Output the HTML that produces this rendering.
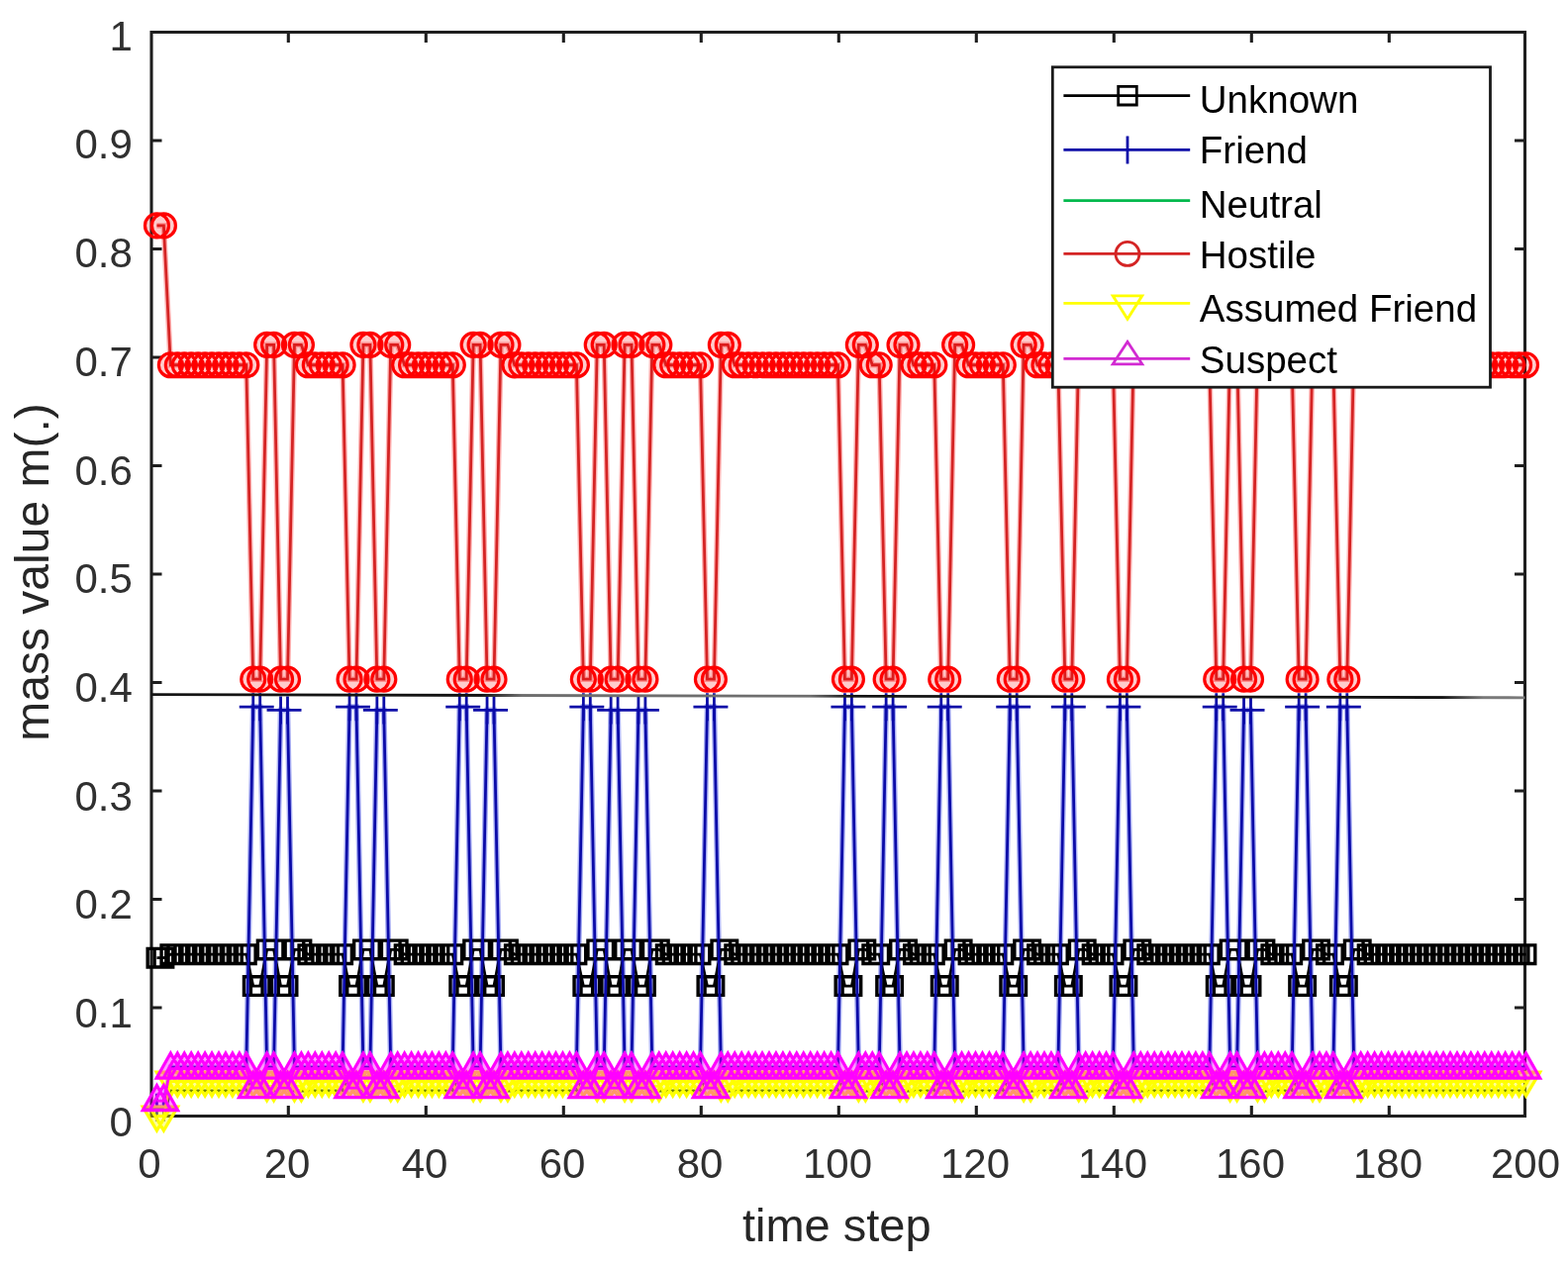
<!DOCTYPE html>
<html><head><meta charset="utf-8"><title>mass value plot</title>
<style>html,body{margin:0;padding:0;background:#fff;}body{width:1584px;height:1282px;overflow:hidden;}svg{display:block;}</style>
</head><body>
<svg width="1584" height="1282" viewBox="0 0 1584 1282">
<rect width="1584" height="1282" fill="#fff"/>
<path fill="none" stroke="#1e1e1e" stroke-width="3.1" d="M153 32.5H1540.5V1127.5H153zM291.3 1127.5v-10.5M291.3 32.5v10.5M430.3 1127.5v-10.5M430.3 32.5v10.5M569.3 1127.5v-10.5M569.3 32.5v10.5M708.3 1127.5v-10.5M708.3 32.5v10.5M847.3 1127.5v-10.5M847.3 32.5v10.5M986.3 1127.5v-10.5M986.3 32.5v10.5M1125.3 1127.5v-10.5M1125.3 32.5v10.5M1264.3 1127.5v-10.5M1264.3 32.5v10.5M1403.3 1127.5v-10.5M1403.3 32.5v10.5M153 1018h10.5M1540.5 1018h-10.5M153 908.5h10.5M1540.5 908.5h-10.5M153 799h10.5M1540.5 799h-10.5M153 689.5h10.5M1540.5 689.5h-10.5M153 580h10.5M1540.5 580h-10.5M153 470.5h10.5M1540.5 470.5h-10.5M153 361h10.5M1540.5 361h-10.5M153 251.5h10.5M1540.5 251.5h-10.5M153 142h10.5M1540.5 142h-10.5"/>
<g fill="none" stroke-width="2.8" stroke-linejoin="miter">
<path stroke="#000" d="M158.45 967.63 L165.4 967.63 L172.35 964.13 L179.3 964.13 L186.25 964.13 L193.2 964.13 L200.15 964.13 L207.1 964.13 L214.05 964.13 L221 964.13 L227.95 964.13 L234.9 964.13 L241.85 964.13 L248.8 964.13 L255.75 996.1 L262.7 996.1 L269.65 959.42 L276.6 959.42 L283.55 996.1 L290.5 996.1 L297.45 959.42 L304.4 959.42 L311.35 964.13 L318.3 964.13 L325.25 964.13 L332.2 964.13 L339.15 964.13 L346.1 964.13 L353.05 996.1 L360 996.1 L366.95 959.42 L373.9 959.42 L380.85 996.1 L387.8 996.1 L394.75 959.42 L401.7 959.42 L408.65 964.13 L415.6 964.13 L422.55 964.13 L429.5 964.13 L436.45 964.13 L443.4 964.13 L450.35 964.13 L457.3 964.13 L464.25 996.1 L471.2 996.1 L478.15 959.42 L485.1 959.42 L492.05 996.1 L499 996.1 L505.95 959.42 L512.9 959.42 L519.85 964.13 L526.8 964.13 L533.75 964.13 L540.7 964.13 L547.65 964.13 L554.6 964.13 L561.55 964.13 L568.5 964.13 L575.45 964.13 L582.4 964.13 L589.35 996.1 L596.3 996.1 L603.25 959.42 L610.2 959.42 L617.15 996.1 L624.1 996.1 L631.05 959.42 L638 959.42 L644.95 996.1 L651.9 996.1 L658.85 959.42 L665.8 959.42 L672.75 964.13 L679.7 964.13 L686.65 964.13 L693.6 964.13 L700.55 964.13 L707.5 964.13 L714.45 996.1 L721.4 996.1 L728.35 959.42 L735.3 959.42 L742.25 964.13 L749.2 964.13 L756.15 964.13 L763.1 964.13 L770.05 964.13 L777 964.13 L783.95 964.13 L790.9 964.13 L797.85 964.13 L804.8 964.13 L811.75 964.13 L818.7 964.13 L825.65 964.13 L832.6 964.13 L839.55 964.13 L846.5 964.13 L853.45 996.1 L860.4 996.1 L867.35 959.42 L874.3 959.42 L881.25 964.13 L888.2 964.13 L895.15 996.1 L902.1 996.1 L909.05 959.42 L916 959.42 L922.95 964.13 L929.9 964.13 L936.85 964.13 L943.8 964.13 L950.75 996.1 L957.7 996.1 L964.65 959.42 L971.6 959.42 L978.55 964.13 L985.5 964.13 L992.45 964.13 L999.4 964.13 L1006.35 964.13 L1013.3 964.13 L1020.25 996.1 L1027.2 996.1 L1034.15 959.42 L1041.1 959.42 L1048.05 964.13 L1055 964.13 L1061.95 964.13 L1068.9 964.13 L1075.85 996.1 L1082.8 996.1 L1089.75 959.42 L1096.7 959.42 L1103.65 964.13 L1110.6 964.13 L1117.55 964.13 L1124.5 964.13 L1131.45 996.1 L1138.4 996.1 L1145.35 959.42 L1152.3 959.42 L1159.25 964.13 L1166.2 964.13 L1173.15 964.13 L1180.1 964.13 L1187.05 964.13 L1194 964.13 L1200.95 964.13 L1207.9 964.13 L1214.85 964.13 L1221.8 964.13 L1228.75 996.1 L1235.7 996.1 L1242.65 959.42 L1249.6 959.42 L1256.55 996.1 L1263.5 996.1 L1270.45 959.42 L1277.4 959.42 L1284.35 964.13 L1291.3 964.13 L1298.25 964.13 L1305.2 964.13 L1312.15 996.1 L1319.1 996.1 L1326.05 959.42 L1333 959.42 L1339.95 964.13 L1346.9 964.13 L1353.85 996.1 L1360.8 996.1 L1367.75 959.42 L1374.7 959.42 L1381.65 964.13 L1388.6 964.13 L1395.55 964.13 L1402.5 964.13 L1409.45 964.13 L1416.4 964.13 L1423.35 964.13 L1430.3 964.13 L1437.25 964.13 L1444.2 964.13 L1451.15 964.13 L1458.1 964.13 L1465.05 964.13 L1472 964.13 L1478.95 964.13 L1485.9 964.13 L1492.85 964.13 L1499.8 964.13 L1506.75 964.13 L1513.7 964.13 L1520.65 964.13 L1527.6 964.13 L1534.55 964.13 L1541.5 964.13"/>
<path stroke="#000" stroke-width="3.4" fill="#000" fill-opacity="0" d="M149.15 958.33h18.6v18.6h-18.6zM156.1 958.33h18.6v18.6h-18.6zM163.05 954.83h18.6v18.6h-18.6zM170 954.83h18.6v18.6h-18.6zM176.95 954.83h18.6v18.6h-18.6zM183.9 954.83h18.6v18.6h-18.6zM190.85 954.83h18.6v18.6h-18.6zM197.8 954.83h18.6v18.6h-18.6zM204.75 954.83h18.6v18.6h-18.6zM211.7 954.83h18.6v18.6h-18.6zM218.65 954.83h18.6v18.6h-18.6zM225.6 954.83h18.6v18.6h-18.6zM232.55 954.83h18.6v18.6h-18.6zM239.5 954.83h18.6v18.6h-18.6zM246.45 986.8h18.6v18.6h-18.6zM253.4 986.8h18.6v18.6h-18.6zM260.35 950.12h18.6v18.6h-18.6zM267.3 950.12h18.6v18.6h-18.6zM274.25 986.8h18.6v18.6h-18.6zM281.2 986.8h18.6v18.6h-18.6zM288.15 950.12h18.6v18.6h-18.6zM295.1 950.12h18.6v18.6h-18.6zM302.05 954.83h18.6v18.6h-18.6zM309 954.83h18.6v18.6h-18.6zM315.95 954.83h18.6v18.6h-18.6zM322.9 954.83h18.6v18.6h-18.6zM329.85 954.83h18.6v18.6h-18.6zM336.8 954.83h18.6v18.6h-18.6zM343.75 986.8h18.6v18.6h-18.6zM350.7 986.8h18.6v18.6h-18.6zM357.65 950.12h18.6v18.6h-18.6zM364.6 950.12h18.6v18.6h-18.6zM371.55 986.8h18.6v18.6h-18.6zM378.5 986.8h18.6v18.6h-18.6zM385.45 950.12h18.6v18.6h-18.6zM392.4 950.12h18.6v18.6h-18.6zM399.35 954.83h18.6v18.6h-18.6zM406.3 954.83h18.6v18.6h-18.6zM413.25 954.83h18.6v18.6h-18.6zM420.2 954.83h18.6v18.6h-18.6zM427.15 954.83h18.6v18.6h-18.6zM434.1 954.83h18.6v18.6h-18.6zM441.05 954.83h18.6v18.6h-18.6zM448 954.83h18.6v18.6h-18.6zM454.95 986.8h18.6v18.6h-18.6zM461.9 986.8h18.6v18.6h-18.6zM468.85 950.12h18.6v18.6h-18.6zM475.8 950.12h18.6v18.6h-18.6zM482.75 986.8h18.6v18.6h-18.6zM489.7 986.8h18.6v18.6h-18.6zM496.65 950.12h18.6v18.6h-18.6zM503.6 950.12h18.6v18.6h-18.6zM510.55 954.83h18.6v18.6h-18.6zM517.5 954.83h18.6v18.6h-18.6zM524.45 954.83h18.6v18.6h-18.6zM531.4 954.83h18.6v18.6h-18.6zM538.35 954.83h18.6v18.6h-18.6zM545.3 954.83h18.6v18.6h-18.6zM552.25 954.83h18.6v18.6h-18.6zM559.2 954.83h18.6v18.6h-18.6zM566.15 954.83h18.6v18.6h-18.6zM573.1 954.83h18.6v18.6h-18.6zM580.05 986.8h18.6v18.6h-18.6zM587 986.8h18.6v18.6h-18.6zM593.95 950.12h18.6v18.6h-18.6zM600.9 950.12h18.6v18.6h-18.6zM607.85 986.8h18.6v18.6h-18.6zM614.8 986.8h18.6v18.6h-18.6zM621.75 950.12h18.6v18.6h-18.6zM628.7 950.12h18.6v18.6h-18.6zM635.65 986.8h18.6v18.6h-18.6zM642.6 986.8h18.6v18.6h-18.6zM649.55 950.12h18.6v18.6h-18.6zM656.5 950.12h18.6v18.6h-18.6zM663.45 954.83h18.6v18.6h-18.6zM670.4 954.83h18.6v18.6h-18.6zM677.35 954.83h18.6v18.6h-18.6zM684.3 954.83h18.6v18.6h-18.6zM691.25 954.83h18.6v18.6h-18.6zM698.2 954.83h18.6v18.6h-18.6zM705.15 986.8h18.6v18.6h-18.6zM712.1 986.8h18.6v18.6h-18.6zM719.05 950.12h18.6v18.6h-18.6zM726 950.12h18.6v18.6h-18.6zM732.95 954.83h18.6v18.6h-18.6zM739.9 954.83h18.6v18.6h-18.6zM746.85 954.83h18.6v18.6h-18.6zM753.8 954.83h18.6v18.6h-18.6zM760.75 954.83h18.6v18.6h-18.6zM767.7 954.83h18.6v18.6h-18.6zM774.65 954.83h18.6v18.6h-18.6zM781.6 954.83h18.6v18.6h-18.6zM788.55 954.83h18.6v18.6h-18.6zM795.5 954.83h18.6v18.6h-18.6zM802.45 954.83h18.6v18.6h-18.6zM809.4 954.83h18.6v18.6h-18.6zM816.35 954.83h18.6v18.6h-18.6zM823.3 954.83h18.6v18.6h-18.6zM830.25 954.83h18.6v18.6h-18.6zM837.2 954.83h18.6v18.6h-18.6zM844.15 986.8h18.6v18.6h-18.6zM851.1 986.8h18.6v18.6h-18.6zM858.05 950.12h18.6v18.6h-18.6zM865 950.12h18.6v18.6h-18.6zM871.95 954.83h18.6v18.6h-18.6zM878.9 954.83h18.6v18.6h-18.6zM885.85 986.8h18.6v18.6h-18.6zM892.8 986.8h18.6v18.6h-18.6zM899.75 950.12h18.6v18.6h-18.6zM906.7 950.12h18.6v18.6h-18.6zM913.65 954.83h18.6v18.6h-18.6zM920.6 954.83h18.6v18.6h-18.6zM927.55 954.83h18.6v18.6h-18.6zM934.5 954.83h18.6v18.6h-18.6zM941.45 986.8h18.6v18.6h-18.6zM948.4 986.8h18.6v18.6h-18.6zM955.35 950.12h18.6v18.6h-18.6zM962.3 950.12h18.6v18.6h-18.6zM969.25 954.83h18.6v18.6h-18.6zM976.2 954.83h18.6v18.6h-18.6zM983.15 954.83h18.6v18.6h-18.6zM990.1 954.83h18.6v18.6h-18.6zM997.05 954.83h18.6v18.6h-18.6zM1004 954.83h18.6v18.6h-18.6zM1010.95 986.8h18.6v18.6h-18.6zM1017.9 986.8h18.6v18.6h-18.6zM1024.85 950.12h18.6v18.6h-18.6zM1031.8 950.12h18.6v18.6h-18.6zM1038.75 954.83h18.6v18.6h-18.6zM1045.7 954.83h18.6v18.6h-18.6zM1052.65 954.83h18.6v18.6h-18.6zM1059.6 954.83h18.6v18.6h-18.6zM1066.55 986.8h18.6v18.6h-18.6zM1073.5 986.8h18.6v18.6h-18.6zM1080.45 950.12h18.6v18.6h-18.6zM1087.4 950.12h18.6v18.6h-18.6zM1094.35 954.83h18.6v18.6h-18.6zM1101.3 954.83h18.6v18.6h-18.6zM1108.25 954.83h18.6v18.6h-18.6zM1115.2 954.83h18.6v18.6h-18.6zM1122.15 986.8h18.6v18.6h-18.6zM1129.1 986.8h18.6v18.6h-18.6zM1136.05 950.12h18.6v18.6h-18.6zM1143 950.12h18.6v18.6h-18.6zM1149.95 954.83h18.6v18.6h-18.6zM1156.9 954.83h18.6v18.6h-18.6zM1163.85 954.83h18.6v18.6h-18.6zM1170.8 954.83h18.6v18.6h-18.6zM1177.75 954.83h18.6v18.6h-18.6zM1184.7 954.83h18.6v18.6h-18.6zM1191.65 954.83h18.6v18.6h-18.6zM1198.6 954.83h18.6v18.6h-18.6zM1205.55 954.83h18.6v18.6h-18.6zM1212.5 954.83h18.6v18.6h-18.6zM1219.45 986.8h18.6v18.6h-18.6zM1226.4 986.8h18.6v18.6h-18.6zM1233.35 950.12h18.6v18.6h-18.6zM1240.3 950.12h18.6v18.6h-18.6zM1247.25 986.8h18.6v18.6h-18.6zM1254.2 986.8h18.6v18.6h-18.6zM1261.15 950.12h18.6v18.6h-18.6zM1268.1 950.12h18.6v18.6h-18.6zM1275.05 954.83h18.6v18.6h-18.6zM1282 954.83h18.6v18.6h-18.6zM1288.95 954.83h18.6v18.6h-18.6zM1295.9 954.83h18.6v18.6h-18.6zM1302.85 986.8h18.6v18.6h-18.6zM1309.8 986.8h18.6v18.6h-18.6zM1316.75 950.12h18.6v18.6h-18.6zM1323.7 950.12h18.6v18.6h-18.6zM1330.65 954.83h18.6v18.6h-18.6zM1337.6 954.83h18.6v18.6h-18.6zM1344.55 986.8h18.6v18.6h-18.6zM1351.5 986.8h18.6v18.6h-18.6zM1358.45 950.12h18.6v18.6h-18.6zM1365.4 950.12h18.6v18.6h-18.6zM1372.35 954.83h18.6v18.6h-18.6zM1379.3 954.83h18.6v18.6h-18.6zM1386.25 954.83h18.6v18.6h-18.6zM1393.2 954.83h18.6v18.6h-18.6zM1400.15 954.83h18.6v18.6h-18.6zM1407.1 954.83h18.6v18.6h-18.6zM1414.05 954.83h18.6v18.6h-18.6zM1421 954.83h18.6v18.6h-18.6zM1427.95 954.83h18.6v18.6h-18.6zM1434.9 954.83h18.6v18.6h-18.6zM1441.85 954.83h18.6v18.6h-18.6zM1448.8 954.83h18.6v18.6h-18.6zM1455.75 954.83h18.6v18.6h-18.6zM1462.7 954.83h18.6v18.6h-18.6zM1469.65 954.83h18.6v18.6h-18.6zM1476.6 954.83h18.6v18.6h-18.6zM1483.55 954.83h18.6v18.6h-18.6zM1490.5 954.83h18.6v18.6h-18.6zM1497.45 954.83h18.6v18.6h-18.6zM1504.4 954.83h18.6v18.6h-18.6zM1511.35 954.83h18.6v18.6h-18.6zM1518.3 954.83h18.6v18.6h-18.6zM1525.25 954.83h18.6v18.6h-18.6zM1532.2 954.83h18.6v18.6h-18.6z"/>
<path stroke="#aab0f4" stroke-width="5.6" style="mix-blend-mode:multiply" d="M158.45 1118.74 L165.4 1118.74 L172.35 1078.22 L179.3 1078.22 L186.25 1078.22 L193.2 1078.22 L200.15 1078.22 L207.1 1078.22 L214.05 1078.22 L221 1078.22 L227.95 1078.22 L234.9 1078.22 L241.85 1078.22 L248.8 1078.22 L255.75 714.14 L262.7 714.14 L269.65 1078.22 L276.6 1078.22 L283.55 717.42 L290.5 717.42 L297.45 1078.22 L304.4 1078.22 L311.35 1078.22 L318.3 1078.22 L325.25 1078.22 L332.2 1078.22 L339.15 1078.22 L346.1 1078.22 L353.05 714.14 L360 714.14 L366.95 1078.22 L373.9 1078.22 L380.85 717.42 L387.8 717.42 L394.75 1078.22 L401.7 1078.22 L408.65 1078.22 L415.6 1078.22 L422.55 1078.22 L429.5 1078.22 L436.45 1078.22 L443.4 1078.22 L450.35 1078.22 L457.3 1078.22 L464.25 714.14 L471.2 714.14 L478.15 1078.22 L485.1 1078.22 L492.05 717.42 L499 717.42 L505.95 1078.22 L512.9 1078.22 L519.85 1078.22 L526.8 1078.22 L533.75 1078.22 L540.7 1078.22 L547.65 1078.22 L554.6 1078.22 L561.55 1078.22 L568.5 1078.22 L575.45 1078.22 L582.4 1078.22 L589.35 714.14 L596.3 714.14 L603.25 1078.22 L610.2 1078.22 L617.15 717.42 L624.1 717.42 L631.05 1078.22 L638 1078.22 L644.95 717.42 L651.9 717.42 L658.85 1078.22 L665.8 1078.22 L672.75 1078.22 L679.7 1078.22 L686.65 1078.22 L693.6 1078.22 L700.55 1078.22 L707.5 1078.22 L714.45 714.14 L721.4 714.14 L728.35 1078.22 L735.3 1078.22 L742.25 1078.22 L749.2 1078.22 L756.15 1078.22 L763.1 1078.22 L770.05 1078.22 L777 1078.22 L783.95 1078.22 L790.9 1078.22 L797.85 1078.22 L804.8 1078.22 L811.75 1078.22 L818.7 1078.22 L825.65 1078.22 L832.6 1078.22 L839.55 1078.22 L846.5 1078.22 L853.45 714.14 L860.4 714.14 L867.35 1078.22 L874.3 1078.22 L881.25 1078.22 L888.2 1078.22 L895.15 714.14 L902.1 714.14 L909.05 1078.22 L916 1078.22 L922.95 1078.22 L929.9 1078.22 L936.85 1078.22 L943.8 1078.22 L950.75 714.14 L957.7 714.14 L964.65 1078.22 L971.6 1078.22 L978.55 1078.22 L985.5 1078.22 L992.45 1078.22 L999.4 1078.22 L1006.35 1078.22 L1013.3 1078.22 L1020.25 714.14 L1027.2 714.14 L1034.15 1078.22 L1041.1 1078.22 L1048.05 1078.22 L1055 1078.22 L1061.95 1078.22 L1068.9 1078.22 L1075.85 714.14 L1082.8 714.14 L1089.75 1078.22 L1096.7 1078.22 L1103.65 1078.22 L1110.6 1078.22 L1117.55 1078.22 L1124.5 1078.22 L1131.45 714.14 L1138.4 714.14 L1145.35 1078.22 L1152.3 1078.22 L1159.25 1078.22 L1166.2 1078.22 L1173.15 1078.22 L1180.1 1078.22 L1187.05 1078.22 L1194 1078.22 L1200.95 1078.22 L1207.9 1078.22 L1214.85 1078.22 L1221.8 1078.22 L1228.75 714.14 L1235.7 714.14 L1242.65 1078.22 L1249.6 1078.22 L1256.55 717.42 L1263.5 717.42 L1270.45 1078.22 L1277.4 1078.22 L1284.35 1078.22 L1291.3 1078.22 L1298.25 1078.22 L1305.2 1078.22 L1312.15 714.14 L1319.1 714.14 L1326.05 1078.22 L1333 1078.22 L1339.95 1078.22 L1346.9 1078.22 L1353.85 714.14 L1360.8 714.14 L1367.75 1078.22 L1374.7 1078.22 L1381.65 1078.22 L1388.6 1078.22 L1395.55 1078.22 L1402.5 1078.22 L1409.45 1078.22 L1416.4 1078.22 L1423.35 1078.22 L1430.3 1078.22 L1437.25 1078.22 L1444.2 1078.22 L1451.15 1078.22 L1458.1 1078.22 L1465.05 1078.22 L1472 1078.22 L1478.95 1078.22 L1485.9 1078.22 L1492.85 1078.22 L1499.8 1078.22 L1506.75 1078.22 L1513.7 1078.22 L1520.65 1078.22 L1527.6 1078.22 L1534.55 1078.22 L1541.5 1078.22"/>
<path stroke="#0b0ba8" d="M158.45 1118.74 L165.4 1118.74 L172.35 1078.22 L179.3 1078.22 L186.25 1078.22 L193.2 1078.22 L200.15 1078.22 L207.1 1078.22 L214.05 1078.22 L221 1078.22 L227.95 1078.22 L234.9 1078.22 L241.85 1078.22 L248.8 1078.22 L255.75 714.14 L262.7 714.14 L269.65 1078.22 L276.6 1078.22 L283.55 717.42 L290.5 717.42 L297.45 1078.22 L304.4 1078.22 L311.35 1078.22 L318.3 1078.22 L325.25 1078.22 L332.2 1078.22 L339.15 1078.22 L346.1 1078.22 L353.05 714.14 L360 714.14 L366.95 1078.22 L373.9 1078.22 L380.85 717.42 L387.8 717.42 L394.75 1078.22 L401.7 1078.22 L408.65 1078.22 L415.6 1078.22 L422.55 1078.22 L429.5 1078.22 L436.45 1078.22 L443.4 1078.22 L450.35 1078.22 L457.3 1078.22 L464.25 714.14 L471.2 714.14 L478.15 1078.22 L485.1 1078.22 L492.05 717.42 L499 717.42 L505.95 1078.22 L512.9 1078.22 L519.85 1078.22 L526.8 1078.22 L533.75 1078.22 L540.7 1078.22 L547.65 1078.22 L554.6 1078.22 L561.55 1078.22 L568.5 1078.22 L575.45 1078.22 L582.4 1078.22 L589.35 714.14 L596.3 714.14 L603.25 1078.22 L610.2 1078.22 L617.15 717.42 L624.1 717.42 L631.05 1078.22 L638 1078.22 L644.95 717.42 L651.9 717.42 L658.85 1078.22 L665.8 1078.22 L672.75 1078.22 L679.7 1078.22 L686.65 1078.22 L693.6 1078.22 L700.55 1078.22 L707.5 1078.22 L714.45 714.14 L721.4 714.14 L728.35 1078.22 L735.3 1078.22 L742.25 1078.22 L749.2 1078.22 L756.15 1078.22 L763.1 1078.22 L770.05 1078.22 L777 1078.22 L783.95 1078.22 L790.9 1078.22 L797.85 1078.22 L804.8 1078.22 L811.75 1078.22 L818.7 1078.22 L825.65 1078.22 L832.6 1078.22 L839.55 1078.22 L846.5 1078.22 L853.45 714.14 L860.4 714.14 L867.35 1078.22 L874.3 1078.22 L881.25 1078.22 L888.2 1078.22 L895.15 714.14 L902.1 714.14 L909.05 1078.22 L916 1078.22 L922.95 1078.22 L929.9 1078.22 L936.85 1078.22 L943.8 1078.22 L950.75 714.14 L957.7 714.14 L964.65 1078.22 L971.6 1078.22 L978.55 1078.22 L985.5 1078.22 L992.45 1078.22 L999.4 1078.22 L1006.35 1078.22 L1013.3 1078.22 L1020.25 714.14 L1027.2 714.14 L1034.15 1078.22 L1041.1 1078.22 L1048.05 1078.22 L1055 1078.22 L1061.95 1078.22 L1068.9 1078.22 L1075.85 714.14 L1082.8 714.14 L1089.75 1078.22 L1096.7 1078.22 L1103.65 1078.22 L1110.6 1078.22 L1117.55 1078.22 L1124.5 1078.22 L1131.45 714.14 L1138.4 714.14 L1145.35 1078.22 L1152.3 1078.22 L1159.25 1078.22 L1166.2 1078.22 L1173.15 1078.22 L1180.1 1078.22 L1187.05 1078.22 L1194 1078.22 L1200.95 1078.22 L1207.9 1078.22 L1214.85 1078.22 L1221.8 1078.22 L1228.75 714.14 L1235.7 714.14 L1242.65 1078.22 L1249.6 1078.22 L1256.55 717.42 L1263.5 717.42 L1270.45 1078.22 L1277.4 1078.22 L1284.35 1078.22 L1291.3 1078.22 L1298.25 1078.22 L1305.2 1078.22 L1312.15 714.14 L1319.1 714.14 L1326.05 1078.22 L1333 1078.22 L1339.95 1078.22 L1346.9 1078.22 L1353.85 714.14 L1360.8 714.14 L1367.75 1078.22 L1374.7 1078.22 L1381.65 1078.22 L1388.6 1078.22 L1395.55 1078.22 L1402.5 1078.22 L1409.45 1078.22 L1416.4 1078.22 L1423.35 1078.22 L1430.3 1078.22 L1437.25 1078.22 L1444.2 1078.22 L1451.15 1078.22 L1458.1 1078.22 L1465.05 1078.22 L1472 1078.22 L1478.95 1078.22 L1485.9 1078.22 L1492.85 1078.22 L1499.8 1078.22 L1506.75 1078.22 L1513.7 1078.22 L1520.65 1078.22 L1527.6 1078.22 L1534.55 1078.22 L1541.5 1078.22"/>
<path stroke="#0b0ba8" d="M144.45 1118.74h28M158.45 1104.74v28M151.4 1118.74h28M165.4 1104.74v28M241.75 714.14h28M255.75 700.14v28M248.7 714.14h28M262.7 700.14v28M269.55 717.42h28M283.55 703.42v28M276.5 717.42h28M290.5 703.42v28M339.05 714.14h28M353.05 700.14v28M346 714.14h28M360 700.14v28M366.85 717.42h28M380.85 703.42v28M373.8 717.42h28M387.8 703.42v28M450.25 714.14h28M464.25 700.14v28M457.2 714.14h28M471.2 700.14v28M478.05 717.42h28M492.05 703.42v28M485 717.42h28M499 703.42v28M575.35 714.14h28M589.35 700.14v28M582.3 714.14h28M596.3 700.14v28M603.15 717.42h28M617.15 703.42v28M610.1 717.42h28M624.1 703.42v28M630.95 717.42h28M644.95 703.42v28M637.9 717.42h28M651.9 703.42v28M700.45 714.14h28M714.45 700.14v28M707.4 714.14h28M721.4 700.14v28M839.45 714.14h28M853.45 700.14v28M846.4 714.14h28M860.4 700.14v28M881.15 714.14h28M895.15 700.14v28M888.1 714.14h28M902.1 700.14v28M936.75 714.14h28M950.75 700.14v28M943.7 714.14h28M957.7 700.14v28M1006.25 714.14h28M1020.25 700.14v28M1013.2 714.14h28M1027.2 700.14v28M1061.85 714.14h28M1075.85 700.14v28M1068.8 714.14h28M1082.8 700.14v28M1117.45 714.14h28M1131.45 700.14v28M1124.4 714.14h28M1138.4 700.14v28M1214.75 714.14h28M1228.75 700.14v28M1221.7 714.14h28M1235.7 700.14v28M1242.55 717.42h28M1256.55 703.42v28M1249.5 717.42h28M1263.5 703.42v28M1298.15 714.14h28M1312.15 700.14v28M1305.1 714.14h28M1319.1 700.14v28M1339.85 714.14h28M1353.85 700.14v28M1346.8 714.14h28M1360.8 700.14v28"/>
<path stroke="#1a3a00" d="M158.45 1127.5 L165.4 1127.5 L172.35 1101.99 L179.3 1101.99 L186.25 1101.99 L193.2 1101.99 L200.15 1101.99 L207.1 1101.99 L214.05 1101.99 L221 1101.99 L227.95 1101.99 L234.9 1101.99 L241.85 1101.99 L248.8 1101.99 L255.75 1083.7 L262.7 1083.7 L269.65 1101.99 L276.6 1101.99 L283.55 1083.7 L290.5 1083.7 L297.45 1101.99 L304.4 1101.99 L311.35 1101.99 L318.3 1101.99 L325.25 1101.99 L332.2 1101.99 L339.15 1101.99 L346.1 1101.99 L353.05 1083.7 L360 1083.7 L366.95 1101.99 L373.9 1101.99 L380.85 1083.7 L387.8 1083.7 L394.75 1101.99 L401.7 1101.99 L408.65 1101.99 L415.6 1101.99 L422.55 1101.99 L429.5 1101.99 L436.45 1101.99 L443.4 1101.99 L450.35 1101.99 L457.3 1101.99 L464.25 1083.7 L471.2 1083.7 L478.15 1101.99 L485.1 1101.99 L492.05 1083.7 L499 1083.7 L505.95 1101.99 L512.9 1101.99 L519.85 1101.99 L526.8 1101.99 L533.75 1101.99 L540.7 1101.99 L547.65 1101.99 L554.6 1101.99 L561.55 1101.99 L568.5 1101.99 L575.45 1101.99 L582.4 1101.99 L589.35 1083.7 L596.3 1083.7 L603.25 1101.99 L610.2 1101.99 L617.15 1083.7 L624.1 1083.7 L631.05 1101.99 L638 1101.99 L644.95 1083.7 L651.9 1083.7 L658.85 1101.99 L665.8 1101.99 L672.75 1101.99 L679.7 1101.99 L686.65 1101.99 L693.6 1101.99 L700.55 1101.99 L707.5 1101.99 L714.45 1083.7 L721.4 1083.7 L728.35 1101.99 L735.3 1101.99 L742.25 1101.99 L749.2 1101.99 L756.15 1101.99 L763.1 1101.99 L770.05 1101.99 L777 1101.99 L783.95 1101.99 L790.9 1101.99 L797.85 1101.99 L804.8 1101.99 L811.75 1101.99 L818.7 1101.99 L825.65 1101.99 L832.6 1101.99 L839.55 1101.99 L846.5 1101.99 L853.45 1083.7 L860.4 1083.7 L867.35 1101.99 L874.3 1101.99 L881.25 1101.99 L888.2 1101.99 L895.15 1083.7 L902.1 1083.7 L909.05 1101.99 L916 1101.99 L922.95 1101.99 L929.9 1101.99 L936.85 1101.99 L943.8 1101.99 L950.75 1083.7 L957.7 1083.7 L964.65 1101.99 L971.6 1101.99 L978.55 1101.99 L985.5 1101.99 L992.45 1101.99 L999.4 1101.99 L1006.35 1101.99 L1013.3 1101.99 L1020.25 1083.7 L1027.2 1083.7 L1034.15 1101.99 L1041.1 1101.99 L1048.05 1101.99 L1055 1101.99 L1061.95 1101.99 L1068.9 1101.99 L1075.85 1083.7 L1082.8 1083.7 L1089.75 1101.99 L1096.7 1101.99 L1103.65 1101.99 L1110.6 1101.99 L1117.55 1101.99 L1124.5 1101.99 L1131.45 1083.7 L1138.4 1083.7 L1145.35 1101.99 L1152.3 1101.99 L1159.25 1101.99 L1166.2 1101.99 L1173.15 1101.99 L1180.1 1101.99 L1187.05 1101.99 L1194 1101.99 L1200.95 1101.99 L1207.9 1101.99 L1214.85 1101.99 L1221.8 1101.99 L1228.75 1083.7 L1235.7 1083.7 L1242.65 1101.99 L1249.6 1101.99 L1256.55 1083.7 L1263.5 1083.7 L1270.45 1101.99 L1277.4 1101.99 L1284.35 1101.99 L1291.3 1101.99 L1298.25 1101.99 L1305.2 1101.99 L1312.15 1083.7 L1319.1 1083.7 L1326.05 1101.99 L1333 1101.99 L1339.95 1101.99 L1346.9 1101.99 L1353.85 1083.7 L1360.8 1083.7 L1367.75 1101.99 L1374.7 1101.99 L1381.65 1101.99 L1388.6 1101.99 L1395.55 1101.99 L1402.5 1101.99 L1409.45 1101.99 L1416.4 1101.99 L1423.35 1101.99 L1430.3 1101.99 L1437.25 1101.99 L1444.2 1101.99 L1451.15 1101.99 L1458.1 1101.99 L1465.05 1101.99 L1472 1101.99 L1478.95 1101.99 L1485.9 1101.99 L1492.85 1101.99 L1499.8 1101.99 L1506.75 1101.99 L1513.7 1101.99 L1520.65 1101.99 L1527.6 1101.99 L1534.55 1101.99 L1541.5 1101.99"/>
<defs><linearGradient id="rl" gradientUnits="userSpaceOnUse" x1="153" y1="0" x2="1540" y2="0"><stop offset="0" stop-color="#141414"/><stop offset="0.24" stop-color="#141414"/><stop offset="0.27" stop-color="#6e6e6e"/><stop offset="0.48" stop-color="#6e6e6e"/><stop offset="0.51" stop-color="#141414"/><stop offset="0.94" stop-color="#141414"/><stop offset="0.97" stop-color="#7a7a7a"/><stop offset="1" stop-color="#7a7a7a"/></linearGradient></defs>
<path stroke="url(#rl)" d="M153 701.7L1540.5 704.8"/>
<path stroke="#ffb4b4" stroke-width="5.6" style="mix-blend-mode:multiply" d="M158.45 227.96 L165.4 227.96 L172.35 368.77 L179.3 368.77 L186.25 368.77 L193.2 368.77 L200.15 368.77 L207.1 368.77 L214.05 368.77 L221 368.77 L227.95 368.77 L234.9 368.77 L241.85 368.77 L248.8 368.77 L255.75 686.21 L262.7 686.21 L269.65 348.41 L276.6 348.41 L283.55 686.21 L290.5 686.21 L297.45 348.41 L304.4 348.41 L311.35 368.77 L318.3 368.77 L325.25 368.77 L332.2 368.77 L339.15 368.77 L346.1 368.77 L353.05 686.21 L360 686.21 L366.95 348.41 L373.9 348.41 L380.85 686.21 L387.8 686.21 L394.75 348.41 L401.7 348.41 L408.65 368.77 L415.6 368.77 L422.55 368.77 L429.5 368.77 L436.45 368.77 L443.4 368.77 L450.35 368.77 L457.3 368.77 L464.25 686.21 L471.2 686.21 L478.15 348.41 L485.1 348.41 L492.05 686.21 L499 686.21 L505.95 348.41 L512.9 348.41 L519.85 368.77 L526.8 368.77 L533.75 368.77 L540.7 368.77 L547.65 368.77 L554.6 368.77 L561.55 368.77 L568.5 368.77 L575.45 368.77 L582.4 368.77 L589.35 686.21 L596.3 686.21 L603.25 348.41 L610.2 348.41 L617.15 686.21 L624.1 686.21 L631.05 348.41 L638 348.41 L644.95 686.21 L651.9 686.21 L658.85 348.41 L665.8 348.41 L672.75 368.77 L679.7 368.77 L686.65 368.77 L693.6 368.77 L700.55 368.77 L707.5 368.77 L714.45 686.21 L721.4 686.21 L728.35 348.41 L735.3 348.41 L742.25 368.77 L749.2 368.77 L756.15 368.77 L763.1 368.77 L770.05 368.77 L777 368.77 L783.95 368.77 L790.9 368.77 L797.85 368.77 L804.8 368.77 L811.75 368.77 L818.7 368.77 L825.65 368.77 L832.6 368.77 L839.55 368.77 L846.5 368.77 L853.45 686.21 L860.4 686.21 L867.35 348.41 L874.3 348.41 L881.25 368.77 L888.2 368.77 L895.15 686.21 L902.1 686.21 L909.05 348.41 L916 348.41 L922.95 368.77 L929.9 368.77 L936.85 368.77 L943.8 368.77 L950.75 686.21 L957.7 686.21 L964.65 348.41 L971.6 348.41 L978.55 368.77 L985.5 368.77 L992.45 368.77 L999.4 368.77 L1006.35 368.77 L1013.3 368.77 L1020.25 686.21 L1027.2 686.21 L1034.15 348.41 L1041.1 348.41 L1048.05 368.77 L1055 368.77 L1061.95 368.77 L1068.9 368.77 L1075.85 686.21 L1082.8 686.21 L1089.75 348.41 L1096.7 348.41 L1103.65 368.77 L1110.6 368.77 L1117.55 368.77 L1124.5 368.77 L1131.45 686.21 L1138.4 686.21 L1145.35 348.41 L1152.3 348.41 L1159.25 368.77 L1166.2 368.77 L1173.15 368.77 L1180.1 368.77 L1187.05 368.77 L1194 368.77 L1200.95 368.77 L1207.9 368.77 L1214.85 368.77 L1221.8 368.77 L1228.75 686.21 L1235.7 686.21 L1242.65 348.41 L1249.6 348.41 L1256.55 686.21 L1263.5 686.21 L1270.45 348.41 L1277.4 348.41 L1284.35 368.77 L1291.3 368.77 L1298.25 368.77 L1305.2 368.77 L1312.15 686.21 L1319.1 686.21 L1326.05 348.41 L1333 348.41 L1339.95 368.77 L1346.9 368.77 L1353.85 686.21 L1360.8 686.21 L1367.75 348.41 L1374.7 348.41 L1381.65 368.77 L1388.6 368.77 L1395.55 368.77 L1402.5 368.77 L1409.45 368.77 L1416.4 368.77 L1423.35 368.77 L1430.3 368.77 L1437.25 368.77 L1444.2 368.77 L1451.15 368.77 L1458.1 368.77 L1465.05 368.77 L1472 368.77 L1478.95 368.77 L1485.9 368.77 L1492.85 368.77 L1499.8 368.77 L1506.75 368.77 L1513.7 368.77 L1520.65 368.77 L1527.6 368.77 L1534.55 368.77 L1541.5 368.77"/>
<path stroke="#d42424" d="M158.45 227.96 L165.4 227.96 L172.35 368.77 L179.3 368.77 L186.25 368.77 L193.2 368.77 L200.15 368.77 L207.1 368.77 L214.05 368.77 L221 368.77 L227.95 368.77 L234.9 368.77 L241.85 368.77 L248.8 368.77 L255.75 686.21 L262.7 686.21 L269.65 348.41 L276.6 348.41 L283.55 686.21 L290.5 686.21 L297.45 348.41 L304.4 348.41 L311.35 368.77 L318.3 368.77 L325.25 368.77 L332.2 368.77 L339.15 368.77 L346.1 368.77 L353.05 686.21 L360 686.21 L366.95 348.41 L373.9 348.41 L380.85 686.21 L387.8 686.21 L394.75 348.41 L401.7 348.41 L408.65 368.77 L415.6 368.77 L422.55 368.77 L429.5 368.77 L436.45 368.77 L443.4 368.77 L450.35 368.77 L457.3 368.77 L464.25 686.21 L471.2 686.21 L478.15 348.41 L485.1 348.41 L492.05 686.21 L499 686.21 L505.95 348.41 L512.9 348.41 L519.85 368.77 L526.8 368.77 L533.75 368.77 L540.7 368.77 L547.65 368.77 L554.6 368.77 L561.55 368.77 L568.5 368.77 L575.45 368.77 L582.4 368.77 L589.35 686.21 L596.3 686.21 L603.25 348.41 L610.2 348.41 L617.15 686.21 L624.1 686.21 L631.05 348.41 L638 348.41 L644.95 686.21 L651.9 686.21 L658.85 348.41 L665.8 348.41 L672.75 368.77 L679.7 368.77 L686.65 368.77 L693.6 368.77 L700.55 368.77 L707.5 368.77 L714.45 686.21 L721.4 686.21 L728.35 348.41 L735.3 348.41 L742.25 368.77 L749.2 368.77 L756.15 368.77 L763.1 368.77 L770.05 368.77 L777 368.77 L783.95 368.77 L790.9 368.77 L797.85 368.77 L804.8 368.77 L811.75 368.77 L818.7 368.77 L825.65 368.77 L832.6 368.77 L839.55 368.77 L846.5 368.77 L853.45 686.21 L860.4 686.21 L867.35 348.41 L874.3 348.41 L881.25 368.77 L888.2 368.77 L895.15 686.21 L902.1 686.21 L909.05 348.41 L916 348.41 L922.95 368.77 L929.9 368.77 L936.85 368.77 L943.8 368.77 L950.75 686.21 L957.7 686.21 L964.65 348.41 L971.6 348.41 L978.55 368.77 L985.5 368.77 L992.45 368.77 L999.4 368.77 L1006.35 368.77 L1013.3 368.77 L1020.25 686.21 L1027.2 686.21 L1034.15 348.41 L1041.1 348.41 L1048.05 368.77 L1055 368.77 L1061.95 368.77 L1068.9 368.77 L1075.85 686.21 L1082.8 686.21 L1089.75 348.41 L1096.7 348.41 L1103.65 368.77 L1110.6 368.77 L1117.55 368.77 L1124.5 368.77 L1131.45 686.21 L1138.4 686.21 L1145.35 348.41 L1152.3 348.41 L1159.25 368.77 L1166.2 368.77 L1173.15 368.77 L1180.1 368.77 L1187.05 368.77 L1194 368.77 L1200.95 368.77 L1207.9 368.77 L1214.85 368.77 L1221.8 368.77 L1228.75 686.21 L1235.7 686.21 L1242.65 348.41 L1249.6 348.41 L1256.55 686.21 L1263.5 686.21 L1270.45 348.41 L1277.4 348.41 L1284.35 368.77 L1291.3 368.77 L1298.25 368.77 L1305.2 368.77 L1312.15 686.21 L1319.1 686.21 L1326.05 348.41 L1333 348.41 L1339.95 368.77 L1346.9 368.77 L1353.85 686.21 L1360.8 686.21 L1367.75 348.41 L1374.7 348.41 L1381.65 368.77 L1388.6 368.77 L1395.55 368.77 L1402.5 368.77 L1409.45 368.77 L1416.4 368.77 L1423.35 368.77 L1430.3 368.77 L1437.25 368.77 L1444.2 368.77 L1451.15 368.77 L1458.1 368.77 L1465.05 368.77 L1472 368.77 L1478.95 368.77 L1485.9 368.77 L1492.85 368.77 L1499.8 368.77 L1506.75 368.77 L1513.7 368.77 L1520.65 368.77 L1527.6 368.77 L1534.55 368.77 L1541.5 368.77"/>
<path stroke="#ff0000" stroke-width="3.2" fill="#ff0000" fill-opacity="0.2" d="M146.45 227.96a12 12 0 1 0 24 0a12 12 0 1 0 -24 0M153.4 227.96a12 12 0 1 0 24 0a12 12 0 1 0 -24 0M160.35 368.77a12 12 0 1 0 24 0a12 12 0 1 0 -24 0M167.3 368.77a12 12 0 1 0 24 0a12 12 0 1 0 -24 0M174.25 368.77a12 12 0 1 0 24 0a12 12 0 1 0 -24 0M181.2 368.77a12 12 0 1 0 24 0a12 12 0 1 0 -24 0M188.15 368.77a12 12 0 1 0 24 0a12 12 0 1 0 -24 0M195.1 368.77a12 12 0 1 0 24 0a12 12 0 1 0 -24 0M202.05 368.77a12 12 0 1 0 24 0a12 12 0 1 0 -24 0M209 368.77a12 12 0 1 0 24 0a12 12 0 1 0 -24 0M215.95 368.77a12 12 0 1 0 24 0a12 12 0 1 0 -24 0M222.9 368.77a12 12 0 1 0 24 0a12 12 0 1 0 -24 0M229.85 368.77a12 12 0 1 0 24 0a12 12 0 1 0 -24 0M236.8 368.77a12 12 0 1 0 24 0a12 12 0 1 0 -24 0M243.75 686.21a12 12 0 1 0 24 0a12 12 0 1 0 -24 0M250.7 686.21a12 12 0 1 0 24 0a12 12 0 1 0 -24 0M257.65 348.41a12 12 0 1 0 24 0a12 12 0 1 0 -24 0M264.6 348.41a12 12 0 1 0 24 0a12 12 0 1 0 -24 0M271.55 686.21a12 12 0 1 0 24 0a12 12 0 1 0 -24 0M278.5 686.21a12 12 0 1 0 24 0a12 12 0 1 0 -24 0M285.45 348.41a12 12 0 1 0 24 0a12 12 0 1 0 -24 0M292.4 348.41a12 12 0 1 0 24 0a12 12 0 1 0 -24 0M299.35 368.77a12 12 0 1 0 24 0a12 12 0 1 0 -24 0M306.3 368.77a12 12 0 1 0 24 0a12 12 0 1 0 -24 0M313.25 368.77a12 12 0 1 0 24 0a12 12 0 1 0 -24 0M320.2 368.77a12 12 0 1 0 24 0a12 12 0 1 0 -24 0M327.15 368.77a12 12 0 1 0 24 0a12 12 0 1 0 -24 0M334.1 368.77a12 12 0 1 0 24 0a12 12 0 1 0 -24 0M341.05 686.21a12 12 0 1 0 24 0a12 12 0 1 0 -24 0M348 686.21a12 12 0 1 0 24 0a12 12 0 1 0 -24 0M354.95 348.41a12 12 0 1 0 24 0a12 12 0 1 0 -24 0M361.9 348.41a12 12 0 1 0 24 0a12 12 0 1 0 -24 0M368.85 686.21a12 12 0 1 0 24 0a12 12 0 1 0 -24 0M375.8 686.21a12 12 0 1 0 24 0a12 12 0 1 0 -24 0M382.75 348.41a12 12 0 1 0 24 0a12 12 0 1 0 -24 0M389.7 348.41a12 12 0 1 0 24 0a12 12 0 1 0 -24 0M396.65 368.77a12 12 0 1 0 24 0a12 12 0 1 0 -24 0M403.6 368.77a12 12 0 1 0 24 0a12 12 0 1 0 -24 0M410.55 368.77a12 12 0 1 0 24 0a12 12 0 1 0 -24 0M417.5 368.77a12 12 0 1 0 24 0a12 12 0 1 0 -24 0M424.45 368.77a12 12 0 1 0 24 0a12 12 0 1 0 -24 0M431.4 368.77a12 12 0 1 0 24 0a12 12 0 1 0 -24 0M438.35 368.77a12 12 0 1 0 24 0a12 12 0 1 0 -24 0M445.3 368.77a12 12 0 1 0 24 0a12 12 0 1 0 -24 0M452.25 686.21a12 12 0 1 0 24 0a12 12 0 1 0 -24 0M459.2 686.21a12 12 0 1 0 24 0a12 12 0 1 0 -24 0M466.15 348.41a12 12 0 1 0 24 0a12 12 0 1 0 -24 0M473.1 348.41a12 12 0 1 0 24 0a12 12 0 1 0 -24 0M480.05 686.21a12 12 0 1 0 24 0a12 12 0 1 0 -24 0M487 686.21a12 12 0 1 0 24 0a12 12 0 1 0 -24 0M493.95 348.41a12 12 0 1 0 24 0a12 12 0 1 0 -24 0M500.9 348.41a12 12 0 1 0 24 0a12 12 0 1 0 -24 0M507.85 368.77a12 12 0 1 0 24 0a12 12 0 1 0 -24 0M514.8 368.77a12 12 0 1 0 24 0a12 12 0 1 0 -24 0M521.75 368.77a12 12 0 1 0 24 0a12 12 0 1 0 -24 0M528.7 368.77a12 12 0 1 0 24 0a12 12 0 1 0 -24 0M535.65 368.77a12 12 0 1 0 24 0a12 12 0 1 0 -24 0M542.6 368.77a12 12 0 1 0 24 0a12 12 0 1 0 -24 0M549.55 368.77a12 12 0 1 0 24 0a12 12 0 1 0 -24 0M556.5 368.77a12 12 0 1 0 24 0a12 12 0 1 0 -24 0M563.45 368.77a12 12 0 1 0 24 0a12 12 0 1 0 -24 0M570.4 368.77a12 12 0 1 0 24 0a12 12 0 1 0 -24 0M577.35 686.21a12 12 0 1 0 24 0a12 12 0 1 0 -24 0M584.3 686.21a12 12 0 1 0 24 0a12 12 0 1 0 -24 0M591.25 348.41a12 12 0 1 0 24 0a12 12 0 1 0 -24 0M598.2 348.41a12 12 0 1 0 24 0a12 12 0 1 0 -24 0M605.15 686.21a12 12 0 1 0 24 0a12 12 0 1 0 -24 0M612.1 686.21a12 12 0 1 0 24 0a12 12 0 1 0 -24 0M619.05 348.41a12 12 0 1 0 24 0a12 12 0 1 0 -24 0M626 348.41a12 12 0 1 0 24 0a12 12 0 1 0 -24 0M632.95 686.21a12 12 0 1 0 24 0a12 12 0 1 0 -24 0M639.9 686.21a12 12 0 1 0 24 0a12 12 0 1 0 -24 0M646.85 348.41a12 12 0 1 0 24 0a12 12 0 1 0 -24 0M653.8 348.41a12 12 0 1 0 24 0a12 12 0 1 0 -24 0M660.75 368.77a12 12 0 1 0 24 0a12 12 0 1 0 -24 0M667.7 368.77a12 12 0 1 0 24 0a12 12 0 1 0 -24 0M674.65 368.77a12 12 0 1 0 24 0a12 12 0 1 0 -24 0M681.6 368.77a12 12 0 1 0 24 0a12 12 0 1 0 -24 0M688.55 368.77a12 12 0 1 0 24 0a12 12 0 1 0 -24 0M695.5 368.77a12 12 0 1 0 24 0a12 12 0 1 0 -24 0M702.45 686.21a12 12 0 1 0 24 0a12 12 0 1 0 -24 0M709.4 686.21a12 12 0 1 0 24 0a12 12 0 1 0 -24 0M716.35 348.41a12 12 0 1 0 24 0a12 12 0 1 0 -24 0M723.3 348.41a12 12 0 1 0 24 0a12 12 0 1 0 -24 0M730.25 368.77a12 12 0 1 0 24 0a12 12 0 1 0 -24 0M737.2 368.77a12 12 0 1 0 24 0a12 12 0 1 0 -24 0M744.15 368.77a12 12 0 1 0 24 0a12 12 0 1 0 -24 0M751.1 368.77a12 12 0 1 0 24 0a12 12 0 1 0 -24 0M758.05 368.77a12 12 0 1 0 24 0a12 12 0 1 0 -24 0M765 368.77a12 12 0 1 0 24 0a12 12 0 1 0 -24 0M771.95 368.77a12 12 0 1 0 24 0a12 12 0 1 0 -24 0M778.9 368.77a12 12 0 1 0 24 0a12 12 0 1 0 -24 0M785.85 368.77a12 12 0 1 0 24 0a12 12 0 1 0 -24 0M792.8 368.77a12 12 0 1 0 24 0a12 12 0 1 0 -24 0M799.75 368.77a12 12 0 1 0 24 0a12 12 0 1 0 -24 0M806.7 368.77a12 12 0 1 0 24 0a12 12 0 1 0 -24 0M813.65 368.77a12 12 0 1 0 24 0a12 12 0 1 0 -24 0M820.6 368.77a12 12 0 1 0 24 0a12 12 0 1 0 -24 0M827.55 368.77a12 12 0 1 0 24 0a12 12 0 1 0 -24 0M834.5 368.77a12 12 0 1 0 24 0a12 12 0 1 0 -24 0M841.45 686.21a12 12 0 1 0 24 0a12 12 0 1 0 -24 0M848.4 686.21a12 12 0 1 0 24 0a12 12 0 1 0 -24 0M855.35 348.41a12 12 0 1 0 24 0a12 12 0 1 0 -24 0M862.3 348.41a12 12 0 1 0 24 0a12 12 0 1 0 -24 0M869.25 368.77a12 12 0 1 0 24 0a12 12 0 1 0 -24 0M876.2 368.77a12 12 0 1 0 24 0a12 12 0 1 0 -24 0M883.15 686.21a12 12 0 1 0 24 0a12 12 0 1 0 -24 0M890.1 686.21a12 12 0 1 0 24 0a12 12 0 1 0 -24 0M897.05 348.41a12 12 0 1 0 24 0a12 12 0 1 0 -24 0M904 348.41a12 12 0 1 0 24 0a12 12 0 1 0 -24 0M910.95 368.77a12 12 0 1 0 24 0a12 12 0 1 0 -24 0M917.9 368.77a12 12 0 1 0 24 0a12 12 0 1 0 -24 0M924.85 368.77a12 12 0 1 0 24 0a12 12 0 1 0 -24 0M931.8 368.77a12 12 0 1 0 24 0a12 12 0 1 0 -24 0M938.75 686.21a12 12 0 1 0 24 0a12 12 0 1 0 -24 0M945.7 686.21a12 12 0 1 0 24 0a12 12 0 1 0 -24 0M952.65 348.41a12 12 0 1 0 24 0a12 12 0 1 0 -24 0M959.6 348.41a12 12 0 1 0 24 0a12 12 0 1 0 -24 0M966.55 368.77a12 12 0 1 0 24 0a12 12 0 1 0 -24 0M973.5 368.77a12 12 0 1 0 24 0a12 12 0 1 0 -24 0M980.45 368.77a12 12 0 1 0 24 0a12 12 0 1 0 -24 0M987.4 368.77a12 12 0 1 0 24 0a12 12 0 1 0 -24 0M994.35 368.77a12 12 0 1 0 24 0a12 12 0 1 0 -24 0M1001.3 368.77a12 12 0 1 0 24 0a12 12 0 1 0 -24 0M1008.25 686.21a12 12 0 1 0 24 0a12 12 0 1 0 -24 0M1015.2 686.21a12 12 0 1 0 24 0a12 12 0 1 0 -24 0M1022.15 348.41a12 12 0 1 0 24 0a12 12 0 1 0 -24 0M1029.1 348.41a12 12 0 1 0 24 0a12 12 0 1 0 -24 0M1036.05 368.77a12 12 0 1 0 24 0a12 12 0 1 0 -24 0M1043 368.77a12 12 0 1 0 24 0a12 12 0 1 0 -24 0M1049.95 368.77a12 12 0 1 0 24 0a12 12 0 1 0 -24 0M1056.9 368.77a12 12 0 1 0 24 0a12 12 0 1 0 -24 0M1063.85 686.21a12 12 0 1 0 24 0a12 12 0 1 0 -24 0M1070.8 686.21a12 12 0 1 0 24 0a12 12 0 1 0 -24 0M1077.75 348.41a12 12 0 1 0 24 0a12 12 0 1 0 -24 0M1084.7 348.41a12 12 0 1 0 24 0a12 12 0 1 0 -24 0M1091.65 368.77a12 12 0 1 0 24 0a12 12 0 1 0 -24 0M1098.6 368.77a12 12 0 1 0 24 0a12 12 0 1 0 -24 0M1105.55 368.77a12 12 0 1 0 24 0a12 12 0 1 0 -24 0M1112.5 368.77a12 12 0 1 0 24 0a12 12 0 1 0 -24 0M1119.45 686.21a12 12 0 1 0 24 0a12 12 0 1 0 -24 0M1126.4 686.21a12 12 0 1 0 24 0a12 12 0 1 0 -24 0M1133.35 348.41a12 12 0 1 0 24 0a12 12 0 1 0 -24 0M1140.3 348.41a12 12 0 1 0 24 0a12 12 0 1 0 -24 0M1147.25 368.77a12 12 0 1 0 24 0a12 12 0 1 0 -24 0M1154.2 368.77a12 12 0 1 0 24 0a12 12 0 1 0 -24 0M1161.15 368.77a12 12 0 1 0 24 0a12 12 0 1 0 -24 0M1168.1 368.77a12 12 0 1 0 24 0a12 12 0 1 0 -24 0M1175.05 368.77a12 12 0 1 0 24 0a12 12 0 1 0 -24 0M1182 368.77a12 12 0 1 0 24 0a12 12 0 1 0 -24 0M1188.95 368.77a12 12 0 1 0 24 0a12 12 0 1 0 -24 0M1195.9 368.77a12 12 0 1 0 24 0a12 12 0 1 0 -24 0M1202.85 368.77a12 12 0 1 0 24 0a12 12 0 1 0 -24 0M1209.8 368.77a12 12 0 1 0 24 0a12 12 0 1 0 -24 0M1216.75 686.21a12 12 0 1 0 24 0a12 12 0 1 0 -24 0M1223.7 686.21a12 12 0 1 0 24 0a12 12 0 1 0 -24 0M1230.65 348.41a12 12 0 1 0 24 0a12 12 0 1 0 -24 0M1237.6 348.41a12 12 0 1 0 24 0a12 12 0 1 0 -24 0M1244.55 686.21a12 12 0 1 0 24 0a12 12 0 1 0 -24 0M1251.5 686.21a12 12 0 1 0 24 0a12 12 0 1 0 -24 0M1258.45 348.41a12 12 0 1 0 24 0a12 12 0 1 0 -24 0M1265.4 348.41a12 12 0 1 0 24 0a12 12 0 1 0 -24 0M1272.35 368.77a12 12 0 1 0 24 0a12 12 0 1 0 -24 0M1279.3 368.77a12 12 0 1 0 24 0a12 12 0 1 0 -24 0M1286.25 368.77a12 12 0 1 0 24 0a12 12 0 1 0 -24 0M1293.2 368.77a12 12 0 1 0 24 0a12 12 0 1 0 -24 0M1300.15 686.21a12 12 0 1 0 24 0a12 12 0 1 0 -24 0M1307.1 686.21a12 12 0 1 0 24 0a12 12 0 1 0 -24 0M1314.05 348.41a12 12 0 1 0 24 0a12 12 0 1 0 -24 0M1321 348.41a12 12 0 1 0 24 0a12 12 0 1 0 -24 0M1327.95 368.77a12 12 0 1 0 24 0a12 12 0 1 0 -24 0M1334.9 368.77a12 12 0 1 0 24 0a12 12 0 1 0 -24 0M1341.85 686.21a12 12 0 1 0 24 0a12 12 0 1 0 -24 0M1348.8 686.21a12 12 0 1 0 24 0a12 12 0 1 0 -24 0M1355.75 348.41a12 12 0 1 0 24 0a12 12 0 1 0 -24 0M1362.7 348.41a12 12 0 1 0 24 0a12 12 0 1 0 -24 0M1369.65 368.77a12 12 0 1 0 24 0a12 12 0 1 0 -24 0M1376.6 368.77a12 12 0 1 0 24 0a12 12 0 1 0 -24 0M1383.55 368.77a12 12 0 1 0 24 0a12 12 0 1 0 -24 0M1390.5 368.77a12 12 0 1 0 24 0a12 12 0 1 0 -24 0M1397.45 368.77a12 12 0 1 0 24 0a12 12 0 1 0 -24 0M1404.4 368.77a12 12 0 1 0 24 0a12 12 0 1 0 -24 0M1411.35 368.77a12 12 0 1 0 24 0a12 12 0 1 0 -24 0M1418.3 368.77a12 12 0 1 0 24 0a12 12 0 1 0 -24 0M1425.25 368.77a12 12 0 1 0 24 0a12 12 0 1 0 -24 0M1432.2 368.77a12 12 0 1 0 24 0a12 12 0 1 0 -24 0M1439.15 368.77a12 12 0 1 0 24 0a12 12 0 1 0 -24 0M1446.1 368.77a12 12 0 1 0 24 0a12 12 0 1 0 -24 0M1453.05 368.77a12 12 0 1 0 24 0a12 12 0 1 0 -24 0M1460 368.77a12 12 0 1 0 24 0a12 12 0 1 0 -24 0M1466.95 368.77a12 12 0 1 0 24 0a12 12 0 1 0 -24 0M1473.9 368.77a12 12 0 1 0 24 0a12 12 0 1 0 -24 0M1480.85 368.77a12 12 0 1 0 24 0a12 12 0 1 0 -24 0M1487.8 368.77a12 12 0 1 0 24 0a12 12 0 1 0 -24 0M1494.75 368.77a12 12 0 1 0 24 0a12 12 0 1 0 -24 0M1501.7 368.77a12 12 0 1 0 24 0a12 12 0 1 0 -24 0M1508.65 368.77a12 12 0 1 0 24 0a12 12 0 1 0 -24 0M1515.6 368.77a12 12 0 1 0 24 0a12 12 0 1 0 -24 0M1522.55 368.77a12 12 0 1 0 24 0a12 12 0 1 0 -24 0M1529.5 368.77a12 12 0 1 0 24 0a12 12 0 1 0 -24 0"/>
<path stroke="#ffff00" d="M158.45 1127.5 L165.4 1127.5 L172.35 1092.57 L179.3 1092.57 L186.25 1092.57 L193.2 1092.57 L200.15 1092.57 L207.1 1092.57 L214.05 1092.57 L221 1092.57 L227.95 1092.57 L234.9 1092.57 L241.85 1092.57 L248.8 1092.57 L255.75 1092.57 L262.7 1092.57 L269.65 1097.39 L276.6 1097.39 L283.55 1092.57 L290.5 1092.57 L297.45 1097.39 L304.4 1097.39 L311.35 1092.57 L318.3 1092.57 L325.25 1092.57 L332.2 1092.57 L339.15 1092.57 L346.1 1092.57 L353.05 1092.57 L360 1092.57 L366.95 1097.39 L373.9 1097.39 L380.85 1092.57 L387.8 1092.57 L394.75 1097.39 L401.7 1097.39 L408.65 1092.57 L415.6 1092.57 L422.55 1092.57 L429.5 1092.57 L436.45 1092.57 L443.4 1092.57 L450.35 1092.57 L457.3 1092.57 L464.25 1092.57 L471.2 1092.57 L478.15 1097.39 L485.1 1097.39 L492.05 1092.57 L499 1092.57 L505.95 1097.39 L512.9 1097.39 L519.85 1092.57 L526.8 1092.57 L533.75 1092.57 L540.7 1092.57 L547.65 1092.57 L554.6 1092.57 L561.55 1092.57 L568.5 1092.57 L575.45 1092.57 L582.4 1092.57 L589.35 1092.57 L596.3 1092.57 L603.25 1097.39 L610.2 1097.39 L617.15 1092.57 L624.1 1092.57 L631.05 1097.39 L638 1097.39 L644.95 1092.57 L651.9 1092.57 L658.85 1097.39 L665.8 1097.39 L672.75 1092.57 L679.7 1092.57 L686.65 1092.57 L693.6 1092.57 L700.55 1092.57 L707.5 1092.57 L714.45 1092.57 L721.4 1092.57 L728.35 1097.39 L735.3 1097.39 L742.25 1092.57 L749.2 1092.57 L756.15 1092.57 L763.1 1092.57 L770.05 1092.57 L777 1092.57 L783.95 1092.57 L790.9 1092.57 L797.85 1092.57 L804.8 1092.57 L811.75 1092.57 L818.7 1092.57 L825.65 1092.57 L832.6 1092.57 L839.55 1092.57 L846.5 1092.57 L853.45 1092.57 L860.4 1092.57 L867.35 1097.39 L874.3 1097.39 L881.25 1092.57 L888.2 1092.57 L895.15 1092.57 L902.1 1092.57 L909.05 1097.39 L916 1097.39 L922.95 1092.57 L929.9 1092.57 L936.85 1092.57 L943.8 1092.57 L950.75 1092.57 L957.7 1092.57 L964.65 1097.39 L971.6 1097.39 L978.55 1092.57 L985.5 1092.57 L992.45 1092.57 L999.4 1092.57 L1006.35 1092.57 L1013.3 1092.57 L1020.25 1092.57 L1027.2 1092.57 L1034.15 1097.39 L1041.1 1097.39 L1048.05 1092.57 L1055 1092.57 L1061.95 1092.57 L1068.9 1092.57 L1075.85 1092.57 L1082.8 1092.57 L1089.75 1097.39 L1096.7 1097.39 L1103.65 1092.57 L1110.6 1092.57 L1117.55 1092.57 L1124.5 1092.57 L1131.45 1092.57 L1138.4 1092.57 L1145.35 1097.39 L1152.3 1097.39 L1159.25 1092.57 L1166.2 1092.57 L1173.15 1092.57 L1180.1 1092.57 L1187.05 1092.57 L1194 1092.57 L1200.95 1092.57 L1207.9 1092.57 L1214.85 1092.57 L1221.8 1092.57 L1228.75 1092.57 L1235.7 1092.57 L1242.65 1097.39 L1249.6 1097.39 L1256.55 1092.57 L1263.5 1092.57 L1270.45 1097.39 L1277.4 1097.39 L1284.35 1092.57 L1291.3 1092.57 L1298.25 1092.57 L1305.2 1092.57 L1312.15 1092.57 L1319.1 1092.57 L1326.05 1097.39 L1333 1097.39 L1339.95 1092.57 L1346.9 1092.57 L1353.85 1092.57 L1360.8 1092.57 L1367.75 1097.39 L1374.7 1097.39 L1381.65 1092.57 L1388.6 1092.57 L1395.55 1092.57 L1402.5 1092.57 L1409.45 1092.57 L1416.4 1092.57 L1423.35 1092.57 L1430.3 1092.57 L1437.25 1092.57 L1444.2 1092.57 L1451.15 1092.57 L1458.1 1092.57 L1465.05 1092.57 L1472 1092.57 L1478.95 1092.57 L1485.9 1092.57 L1492.85 1092.57 L1499.8 1092.57 L1506.75 1092.57 L1513.7 1092.57 L1520.65 1092.57 L1527.6 1092.57 L1534.55 1092.57 L1541.5 1092.57"/>
<path stroke="#ffff00" stroke-width="3.2" fill="#ffff00" fill-opacity="0.4" d="M144.25 1118L172.65 1118L158.45 1142zM151.2 1118L179.6 1118L165.4 1142zM158.15 1083.07L186.55 1083.07L172.35 1107.07zM165.1 1083.07L193.5 1083.07L179.3 1107.07zM172.05 1083.07L200.45 1083.07L186.25 1107.07zM179 1083.07L207.4 1083.07L193.2 1107.07zM185.95 1083.07L214.35 1083.07L200.15 1107.07zM192.9 1083.07L221.3 1083.07L207.1 1107.07zM199.85 1083.07L228.25 1083.07L214.05 1107.07zM206.8 1083.07L235.2 1083.07L221 1107.07zM213.75 1083.07L242.15 1083.07L227.95 1107.07zM220.7 1083.07L249.1 1083.07L234.9 1107.07zM227.65 1083.07L256.05 1083.07L241.85 1107.07zM234.6 1083.07L263 1083.07L248.8 1107.07zM241.55 1083.07L269.95 1083.07L255.75 1107.07zM248.5 1083.07L276.9 1083.07L262.7 1107.07zM255.45 1087.89L283.85 1087.89L269.65 1111.89zM262.4 1087.89L290.8 1087.89L276.6 1111.89zM269.35 1083.07L297.75 1083.07L283.55 1107.07zM276.3 1083.07L304.7 1083.07L290.5 1107.07zM283.25 1087.89L311.65 1087.89L297.45 1111.89zM290.2 1087.89L318.6 1087.89L304.4 1111.89zM297.15 1083.07L325.55 1083.07L311.35 1107.07zM304.1 1083.07L332.5 1083.07L318.3 1107.07zM311.05 1083.07L339.45 1083.07L325.25 1107.07zM318 1083.07L346.4 1083.07L332.2 1107.07zM324.95 1083.07L353.35 1083.07L339.15 1107.07zM331.9 1083.07L360.3 1083.07L346.1 1107.07zM338.85 1083.07L367.25 1083.07L353.05 1107.07zM345.8 1083.07L374.2 1083.07L360 1107.07zM352.75 1087.89L381.15 1087.89L366.95 1111.89zM359.7 1087.89L388.1 1087.89L373.9 1111.89zM366.65 1083.07L395.05 1083.07L380.85 1107.07zM373.6 1083.07L402 1083.07L387.8 1107.07zM380.55 1087.89L408.95 1087.89L394.75 1111.89zM387.5 1087.89L415.9 1087.89L401.7 1111.89zM394.45 1083.07L422.85 1083.07L408.65 1107.07zM401.4 1083.07L429.8 1083.07L415.6 1107.07zM408.35 1083.07L436.75 1083.07L422.55 1107.07zM415.3 1083.07L443.7 1083.07L429.5 1107.07zM422.25 1083.07L450.65 1083.07L436.45 1107.07zM429.2 1083.07L457.6 1083.07L443.4 1107.07zM436.15 1083.07L464.55 1083.07L450.35 1107.07zM443.1 1083.07L471.5 1083.07L457.3 1107.07zM450.05 1083.07L478.45 1083.07L464.25 1107.07zM457 1083.07L485.4 1083.07L471.2 1107.07zM463.95 1087.89L492.35 1087.89L478.15 1111.89zM470.9 1087.89L499.3 1087.89L485.1 1111.89zM477.85 1083.07L506.25 1083.07L492.05 1107.07zM484.8 1083.07L513.2 1083.07L499 1107.07zM491.75 1087.89L520.15 1087.89L505.95 1111.89zM498.7 1087.89L527.1 1087.89L512.9 1111.89zM505.65 1083.07L534.05 1083.07L519.85 1107.07zM512.6 1083.07L541 1083.07L526.8 1107.07zM519.55 1083.07L547.95 1083.07L533.75 1107.07zM526.5 1083.07L554.9 1083.07L540.7 1107.07zM533.45 1083.07L561.85 1083.07L547.65 1107.07zM540.4 1083.07L568.8 1083.07L554.6 1107.07zM547.35 1083.07L575.75 1083.07L561.55 1107.07zM554.3 1083.07L582.7 1083.07L568.5 1107.07zM561.25 1083.07L589.65 1083.07L575.45 1107.07zM568.2 1083.07L596.6 1083.07L582.4 1107.07zM575.15 1083.07L603.55 1083.07L589.35 1107.07zM582.1 1083.07L610.5 1083.07L596.3 1107.07zM589.05 1087.89L617.45 1087.89L603.25 1111.89zM596 1087.89L624.4 1087.89L610.2 1111.89zM602.95 1083.07L631.35 1083.07L617.15 1107.07zM609.9 1083.07L638.3 1083.07L624.1 1107.07zM616.85 1087.89L645.25 1087.89L631.05 1111.89zM623.8 1087.89L652.2 1087.89L638 1111.89zM630.75 1083.07L659.15 1083.07L644.95 1107.07zM637.7 1083.07L666.1 1083.07L651.9 1107.07zM644.65 1087.89L673.05 1087.89L658.85 1111.89zM651.6 1087.89L680 1087.89L665.8 1111.89zM658.55 1083.07L686.95 1083.07L672.75 1107.07zM665.5 1083.07L693.9 1083.07L679.7 1107.07zM672.45 1083.07L700.85 1083.07L686.65 1107.07zM679.4 1083.07L707.8 1083.07L693.6 1107.07zM686.35 1083.07L714.75 1083.07L700.55 1107.07zM693.3 1083.07L721.7 1083.07L707.5 1107.07zM700.25 1083.07L728.65 1083.07L714.45 1107.07zM707.2 1083.07L735.6 1083.07L721.4 1107.07zM714.15 1087.89L742.55 1087.89L728.35 1111.89zM721.1 1087.89L749.5 1087.89L735.3 1111.89zM728.05 1083.07L756.45 1083.07L742.25 1107.07zM735 1083.07L763.4 1083.07L749.2 1107.07zM741.95 1083.07L770.35 1083.07L756.15 1107.07zM748.9 1083.07L777.3 1083.07L763.1 1107.07zM755.85 1083.07L784.25 1083.07L770.05 1107.07zM762.8 1083.07L791.2 1083.07L777 1107.07zM769.75 1083.07L798.15 1083.07L783.95 1107.07zM776.7 1083.07L805.1 1083.07L790.9 1107.07zM783.65 1083.07L812.05 1083.07L797.85 1107.07zM790.6 1083.07L819 1083.07L804.8 1107.07zM797.55 1083.07L825.95 1083.07L811.75 1107.07zM804.5 1083.07L832.9 1083.07L818.7 1107.07zM811.45 1083.07L839.85 1083.07L825.65 1107.07zM818.4 1083.07L846.8 1083.07L832.6 1107.07zM825.35 1083.07L853.75 1083.07L839.55 1107.07zM832.3 1083.07L860.7 1083.07L846.5 1107.07zM839.25 1083.07L867.65 1083.07L853.45 1107.07zM846.2 1083.07L874.6 1083.07L860.4 1107.07zM853.15 1087.89L881.55 1087.89L867.35 1111.89zM860.1 1087.89L888.5 1087.89L874.3 1111.89zM867.05 1083.07L895.45 1083.07L881.25 1107.07zM874 1083.07L902.4 1083.07L888.2 1107.07zM880.95 1083.07L909.35 1083.07L895.15 1107.07zM887.9 1083.07L916.3 1083.07L902.1 1107.07zM894.85 1087.89L923.25 1087.89L909.05 1111.89zM901.8 1087.89L930.2 1087.89L916 1111.89zM908.75 1083.07L937.15 1083.07L922.95 1107.07zM915.7 1083.07L944.1 1083.07L929.9 1107.07zM922.65 1083.07L951.05 1083.07L936.85 1107.07zM929.6 1083.07L958 1083.07L943.8 1107.07zM936.55 1083.07L964.95 1083.07L950.75 1107.07zM943.5 1083.07L971.9 1083.07L957.7 1107.07zM950.45 1087.89L978.85 1087.89L964.65 1111.89zM957.4 1087.89L985.8 1087.89L971.6 1111.89zM964.35 1083.07L992.75 1083.07L978.55 1107.07zM971.3 1083.07L999.7 1083.07L985.5 1107.07zM978.25 1083.07L1006.65 1083.07L992.45 1107.07zM985.2 1083.07L1013.6 1083.07L999.4 1107.07zM992.15 1083.07L1020.55 1083.07L1006.35 1107.07zM999.1 1083.07L1027.5 1083.07L1013.3 1107.07zM1006.05 1083.07L1034.45 1083.07L1020.25 1107.07zM1013 1083.07L1041.4 1083.07L1027.2 1107.07zM1019.95 1087.89L1048.35 1087.89L1034.15 1111.89zM1026.9 1087.89L1055.3 1087.89L1041.1 1111.89zM1033.85 1083.07L1062.25 1083.07L1048.05 1107.07zM1040.8 1083.07L1069.2 1083.07L1055 1107.07zM1047.75 1083.07L1076.15 1083.07L1061.95 1107.07zM1054.7 1083.07L1083.1 1083.07L1068.9 1107.07zM1061.65 1083.07L1090.05 1083.07L1075.85 1107.07zM1068.6 1083.07L1097 1083.07L1082.8 1107.07zM1075.55 1087.89L1103.95 1087.89L1089.75 1111.89zM1082.5 1087.89L1110.9 1087.89L1096.7 1111.89zM1089.45 1083.07L1117.85 1083.07L1103.65 1107.07zM1096.4 1083.07L1124.8 1083.07L1110.6 1107.07zM1103.35 1083.07L1131.75 1083.07L1117.55 1107.07zM1110.3 1083.07L1138.7 1083.07L1124.5 1107.07zM1117.25 1083.07L1145.65 1083.07L1131.45 1107.07zM1124.2 1083.07L1152.6 1083.07L1138.4 1107.07zM1131.15 1087.89L1159.55 1087.89L1145.35 1111.89zM1138.1 1087.89L1166.5 1087.89L1152.3 1111.89zM1145.05 1083.07L1173.45 1083.07L1159.25 1107.07zM1152 1083.07L1180.4 1083.07L1166.2 1107.07zM1158.95 1083.07L1187.35 1083.07L1173.15 1107.07zM1165.9 1083.07L1194.3 1083.07L1180.1 1107.07zM1172.85 1083.07L1201.25 1083.07L1187.05 1107.07zM1179.8 1083.07L1208.2 1083.07L1194 1107.07zM1186.75 1083.07L1215.15 1083.07L1200.95 1107.07zM1193.7 1083.07L1222.1 1083.07L1207.9 1107.07zM1200.65 1083.07L1229.05 1083.07L1214.85 1107.07zM1207.6 1083.07L1236 1083.07L1221.8 1107.07zM1214.55 1083.07L1242.95 1083.07L1228.75 1107.07zM1221.5 1083.07L1249.9 1083.07L1235.7 1107.07zM1228.45 1087.89L1256.85 1087.89L1242.65 1111.89zM1235.4 1087.89L1263.8 1087.89L1249.6 1111.89zM1242.35 1083.07L1270.75 1083.07L1256.55 1107.07zM1249.3 1083.07L1277.7 1083.07L1263.5 1107.07zM1256.25 1087.89L1284.65 1087.89L1270.45 1111.89zM1263.2 1087.89L1291.6 1087.89L1277.4 1111.89zM1270.15 1083.07L1298.55 1083.07L1284.35 1107.07zM1277.1 1083.07L1305.5 1083.07L1291.3 1107.07zM1284.05 1083.07L1312.45 1083.07L1298.25 1107.07zM1291 1083.07L1319.4 1083.07L1305.2 1107.07zM1297.95 1083.07L1326.35 1083.07L1312.15 1107.07zM1304.9 1083.07L1333.3 1083.07L1319.1 1107.07zM1311.85 1087.89L1340.25 1087.89L1326.05 1111.89zM1318.8 1087.89L1347.2 1087.89L1333 1111.89zM1325.75 1083.07L1354.15 1083.07L1339.95 1107.07zM1332.7 1083.07L1361.1 1083.07L1346.9 1107.07zM1339.65 1083.07L1368.05 1083.07L1353.85 1107.07zM1346.6 1083.07L1375 1083.07L1360.8 1107.07zM1353.55 1087.89L1381.95 1087.89L1367.75 1111.89zM1360.5 1087.89L1388.9 1087.89L1374.7 1111.89zM1367.45 1083.07L1395.85 1083.07L1381.65 1107.07zM1374.4 1083.07L1402.8 1083.07L1388.6 1107.07zM1381.35 1083.07L1409.75 1083.07L1395.55 1107.07zM1388.3 1083.07L1416.7 1083.07L1402.5 1107.07zM1395.25 1083.07L1423.65 1083.07L1409.45 1107.07zM1402.2 1083.07L1430.6 1083.07L1416.4 1107.07zM1409.15 1083.07L1437.55 1083.07L1423.35 1107.07zM1416.1 1083.07L1444.5 1083.07L1430.3 1107.07zM1423.05 1083.07L1451.45 1083.07L1437.25 1107.07zM1430 1083.07L1458.4 1083.07L1444.2 1107.07zM1436.95 1083.07L1465.35 1083.07L1451.15 1107.07zM1443.9 1083.07L1472.3 1083.07L1458.1 1107.07zM1450.85 1083.07L1479.25 1083.07L1465.05 1107.07zM1457.8 1083.07L1486.2 1083.07L1472 1107.07zM1464.75 1083.07L1493.15 1083.07L1478.95 1107.07zM1471.7 1083.07L1500.1 1083.07L1485.9 1107.07zM1478.65 1083.07L1507.05 1083.07L1492.85 1107.07zM1485.6 1083.07L1514 1083.07L1499.8 1107.07zM1492.55 1083.07L1520.95 1083.07L1506.75 1107.07zM1499.5 1083.07L1527.9 1083.07L1513.7 1107.07zM1506.45 1083.07L1534.85 1083.07L1520.65 1107.07zM1513.4 1083.07L1541.8 1083.07L1527.6 1107.07zM1520.35 1083.07L1548.75 1083.07L1534.55 1107.07zM1527.3 1083.07L1555.7 1083.07L1541.5 1107.07z"/>
<path stroke="#ff00ff" d="M158.45 1112.06 L165.4 1112.06 L172.35 1079.54 L179.3 1079.54 L186.25 1079.54 L193.2 1079.54 L200.15 1079.54 L207.1 1079.54 L214.05 1079.54 L221 1079.54 L227.95 1079.54 L234.9 1079.54 L241.85 1079.54 L248.8 1079.54 L255.75 1099.03 L262.7 1099.03 L269.65 1079.54 L276.6 1079.54 L283.55 1099.03 L290.5 1099.03 L297.45 1079.54 L304.4 1079.54 L311.35 1079.54 L318.3 1079.54 L325.25 1079.54 L332.2 1079.54 L339.15 1079.54 L346.1 1079.54 L353.05 1099.03 L360 1099.03 L366.95 1079.54 L373.9 1079.54 L380.85 1099.03 L387.8 1099.03 L394.75 1079.54 L401.7 1079.54 L408.65 1079.54 L415.6 1079.54 L422.55 1079.54 L429.5 1079.54 L436.45 1079.54 L443.4 1079.54 L450.35 1079.54 L457.3 1079.54 L464.25 1099.03 L471.2 1099.03 L478.15 1079.54 L485.1 1079.54 L492.05 1099.03 L499 1099.03 L505.95 1079.54 L512.9 1079.54 L519.85 1079.54 L526.8 1079.54 L533.75 1079.54 L540.7 1079.54 L547.65 1079.54 L554.6 1079.54 L561.55 1079.54 L568.5 1079.54 L575.45 1079.54 L582.4 1079.54 L589.35 1099.03 L596.3 1099.03 L603.25 1079.54 L610.2 1079.54 L617.15 1099.03 L624.1 1099.03 L631.05 1079.54 L638 1079.54 L644.95 1099.03 L651.9 1099.03 L658.85 1079.54 L665.8 1079.54 L672.75 1079.54 L679.7 1079.54 L686.65 1079.54 L693.6 1079.54 L700.55 1079.54 L707.5 1079.54 L714.45 1099.03 L721.4 1099.03 L728.35 1079.54 L735.3 1079.54 L742.25 1079.54 L749.2 1079.54 L756.15 1079.54 L763.1 1079.54 L770.05 1079.54 L777 1079.54 L783.95 1079.54 L790.9 1079.54 L797.85 1079.54 L804.8 1079.54 L811.75 1079.54 L818.7 1079.54 L825.65 1079.54 L832.6 1079.54 L839.55 1079.54 L846.5 1079.54 L853.45 1099.03 L860.4 1099.03 L867.35 1079.54 L874.3 1079.54 L881.25 1079.54 L888.2 1079.54 L895.15 1099.03 L902.1 1099.03 L909.05 1079.54 L916 1079.54 L922.95 1079.54 L929.9 1079.54 L936.85 1079.54 L943.8 1079.54 L950.75 1099.03 L957.7 1099.03 L964.65 1079.54 L971.6 1079.54 L978.55 1079.54 L985.5 1079.54 L992.45 1079.54 L999.4 1079.54 L1006.35 1079.54 L1013.3 1079.54 L1020.25 1099.03 L1027.2 1099.03 L1034.15 1079.54 L1041.1 1079.54 L1048.05 1079.54 L1055 1079.54 L1061.95 1079.54 L1068.9 1079.54 L1075.85 1099.03 L1082.8 1099.03 L1089.75 1079.54 L1096.7 1079.54 L1103.65 1079.54 L1110.6 1079.54 L1117.55 1079.54 L1124.5 1079.54 L1131.45 1099.03 L1138.4 1099.03 L1145.35 1079.54 L1152.3 1079.54 L1159.25 1079.54 L1166.2 1079.54 L1173.15 1079.54 L1180.1 1079.54 L1187.05 1079.54 L1194 1079.54 L1200.95 1079.54 L1207.9 1079.54 L1214.85 1079.54 L1221.8 1079.54 L1228.75 1099.03 L1235.7 1099.03 L1242.65 1079.54 L1249.6 1079.54 L1256.55 1099.03 L1263.5 1099.03 L1270.45 1079.54 L1277.4 1079.54 L1284.35 1079.54 L1291.3 1079.54 L1298.25 1079.54 L1305.2 1079.54 L1312.15 1099.03 L1319.1 1099.03 L1326.05 1079.54 L1333 1079.54 L1339.95 1079.54 L1346.9 1079.54 L1353.85 1099.03 L1360.8 1099.03 L1367.75 1079.54 L1374.7 1079.54 L1381.65 1079.54 L1388.6 1079.54 L1395.55 1079.54 L1402.5 1079.54 L1409.45 1079.54 L1416.4 1079.54 L1423.35 1079.54 L1430.3 1079.54 L1437.25 1079.54 L1444.2 1079.54 L1451.15 1079.54 L1458.1 1079.54 L1465.05 1079.54 L1472 1079.54 L1478.95 1079.54 L1485.9 1079.54 L1492.85 1079.54 L1499.8 1079.54 L1506.75 1079.54 L1513.7 1079.54 L1520.65 1079.54 L1527.6 1079.54 L1534.55 1079.54 L1541.5 1079.54"/>
<path stroke="#ff00ff" stroke-width="3.2" fill="#ff00ff" fill-opacity="0.4" d="M158.45 1096.56L172.65 1121.56L144.25 1121.56zM165.4 1096.56L179.6 1121.56L151.2 1121.56zM172.35 1064.04L186.55 1089.04L158.15 1089.04zM179.3 1064.04L193.5 1089.04L165.1 1089.04zM186.25 1064.04L200.45 1089.04L172.05 1089.04zM193.2 1064.04L207.4 1089.04L179 1089.04zM200.15 1064.04L214.35 1089.04L185.95 1089.04zM207.1 1064.04L221.3 1089.04L192.9 1089.04zM214.05 1064.04L228.25 1089.04L199.85 1089.04zM221 1064.04L235.2 1089.04L206.8 1089.04zM227.95 1064.04L242.15 1089.04L213.75 1089.04zM234.9 1064.04L249.1 1089.04L220.7 1089.04zM241.85 1064.04L256.05 1089.04L227.65 1089.04zM248.8 1064.04L263 1089.04L234.6 1089.04zM255.75 1083.53L269.95 1108.53L241.55 1108.53zM262.7 1083.53L276.9 1108.53L248.5 1108.53zM269.65 1064.04L283.85 1089.04L255.45 1089.04zM276.6 1064.04L290.8 1089.04L262.4 1089.04zM283.55 1083.53L297.75 1108.53L269.35 1108.53zM290.5 1083.53L304.7 1108.53L276.3 1108.53zM297.45 1064.04L311.65 1089.04L283.25 1089.04zM304.4 1064.04L318.6 1089.04L290.2 1089.04zM311.35 1064.04L325.55 1089.04L297.15 1089.04zM318.3 1064.04L332.5 1089.04L304.1 1089.04zM325.25 1064.04L339.45 1089.04L311.05 1089.04zM332.2 1064.04L346.4 1089.04L318 1089.04zM339.15 1064.04L353.35 1089.04L324.95 1089.04zM346.1 1064.04L360.3 1089.04L331.9 1089.04zM353.05 1083.53L367.25 1108.53L338.85 1108.53zM360 1083.53L374.2 1108.53L345.8 1108.53zM366.95 1064.04L381.15 1089.04L352.75 1089.04zM373.9 1064.04L388.1 1089.04L359.7 1089.04zM380.85 1083.53L395.05 1108.53L366.65 1108.53zM387.8 1083.53L402 1108.53L373.6 1108.53zM394.75 1064.04L408.95 1089.04L380.55 1089.04zM401.7 1064.04L415.9 1089.04L387.5 1089.04zM408.65 1064.04L422.85 1089.04L394.45 1089.04zM415.6 1064.04L429.8 1089.04L401.4 1089.04zM422.55 1064.04L436.75 1089.04L408.35 1089.04zM429.5 1064.04L443.7 1089.04L415.3 1089.04zM436.45 1064.04L450.65 1089.04L422.25 1089.04zM443.4 1064.04L457.6 1089.04L429.2 1089.04zM450.35 1064.04L464.55 1089.04L436.15 1089.04zM457.3 1064.04L471.5 1089.04L443.1 1089.04zM464.25 1083.53L478.45 1108.53L450.05 1108.53zM471.2 1083.53L485.4 1108.53L457 1108.53zM478.15 1064.04L492.35 1089.04L463.95 1089.04zM485.1 1064.04L499.3 1089.04L470.9 1089.04zM492.05 1083.53L506.25 1108.53L477.85 1108.53zM499 1083.53L513.2 1108.53L484.8 1108.53zM505.95 1064.04L520.15 1089.04L491.75 1089.04zM512.9 1064.04L527.1 1089.04L498.7 1089.04zM519.85 1064.04L534.05 1089.04L505.65 1089.04zM526.8 1064.04L541 1089.04L512.6 1089.04zM533.75 1064.04L547.95 1089.04L519.55 1089.04zM540.7 1064.04L554.9 1089.04L526.5 1089.04zM547.65 1064.04L561.85 1089.04L533.45 1089.04zM554.6 1064.04L568.8 1089.04L540.4 1089.04zM561.55 1064.04L575.75 1089.04L547.35 1089.04zM568.5 1064.04L582.7 1089.04L554.3 1089.04zM575.45 1064.04L589.65 1089.04L561.25 1089.04zM582.4 1064.04L596.6 1089.04L568.2 1089.04zM589.35 1083.53L603.55 1108.53L575.15 1108.53zM596.3 1083.53L610.5 1108.53L582.1 1108.53zM603.25 1064.04L617.45 1089.04L589.05 1089.04zM610.2 1064.04L624.4 1089.04L596 1089.04zM617.15 1083.53L631.35 1108.53L602.95 1108.53zM624.1 1083.53L638.3 1108.53L609.9 1108.53zM631.05 1064.04L645.25 1089.04L616.85 1089.04zM638 1064.04L652.2 1089.04L623.8 1089.04zM644.95 1083.53L659.15 1108.53L630.75 1108.53zM651.9 1083.53L666.1 1108.53L637.7 1108.53zM658.85 1064.04L673.05 1089.04L644.65 1089.04zM665.8 1064.04L680 1089.04L651.6 1089.04zM672.75 1064.04L686.95 1089.04L658.55 1089.04zM679.7 1064.04L693.9 1089.04L665.5 1089.04zM686.65 1064.04L700.85 1089.04L672.45 1089.04zM693.6 1064.04L707.8 1089.04L679.4 1089.04zM700.55 1064.04L714.75 1089.04L686.35 1089.04zM707.5 1064.04L721.7 1089.04L693.3 1089.04zM714.45 1083.53L728.65 1108.53L700.25 1108.53zM721.4 1083.53L735.6 1108.53L707.2 1108.53zM728.35 1064.04L742.55 1089.04L714.15 1089.04zM735.3 1064.04L749.5 1089.04L721.1 1089.04zM742.25 1064.04L756.45 1089.04L728.05 1089.04zM749.2 1064.04L763.4 1089.04L735 1089.04zM756.15 1064.04L770.35 1089.04L741.95 1089.04zM763.1 1064.04L777.3 1089.04L748.9 1089.04zM770.05 1064.04L784.25 1089.04L755.85 1089.04zM777 1064.04L791.2 1089.04L762.8 1089.04zM783.95 1064.04L798.15 1089.04L769.75 1089.04zM790.9 1064.04L805.1 1089.04L776.7 1089.04zM797.85 1064.04L812.05 1089.04L783.65 1089.04zM804.8 1064.04L819 1089.04L790.6 1089.04zM811.75 1064.04L825.95 1089.04L797.55 1089.04zM818.7 1064.04L832.9 1089.04L804.5 1089.04zM825.65 1064.04L839.85 1089.04L811.45 1089.04zM832.6 1064.04L846.8 1089.04L818.4 1089.04zM839.55 1064.04L853.75 1089.04L825.35 1089.04zM846.5 1064.04L860.7 1089.04L832.3 1089.04zM853.45 1083.53L867.65 1108.53L839.25 1108.53zM860.4 1083.53L874.6 1108.53L846.2 1108.53zM867.35 1064.04L881.55 1089.04L853.15 1089.04zM874.3 1064.04L888.5 1089.04L860.1 1089.04zM881.25 1064.04L895.45 1089.04L867.05 1089.04zM888.2 1064.04L902.4 1089.04L874 1089.04zM895.15 1083.53L909.35 1108.53L880.95 1108.53zM902.1 1083.53L916.3 1108.53L887.9 1108.53zM909.05 1064.04L923.25 1089.04L894.85 1089.04zM916 1064.04L930.2 1089.04L901.8 1089.04zM922.95 1064.04L937.15 1089.04L908.75 1089.04zM929.9 1064.04L944.1 1089.04L915.7 1089.04zM936.85 1064.04L951.05 1089.04L922.65 1089.04zM943.8 1064.04L958 1089.04L929.6 1089.04zM950.75 1083.53L964.95 1108.53L936.55 1108.53zM957.7 1083.53L971.9 1108.53L943.5 1108.53zM964.65 1064.04L978.85 1089.04L950.45 1089.04zM971.6 1064.04L985.8 1089.04L957.4 1089.04zM978.55 1064.04L992.75 1089.04L964.35 1089.04zM985.5 1064.04L999.7 1089.04L971.3 1089.04zM992.45 1064.04L1006.65 1089.04L978.25 1089.04zM999.4 1064.04L1013.6 1089.04L985.2 1089.04zM1006.35 1064.04L1020.55 1089.04L992.15 1089.04zM1013.3 1064.04L1027.5 1089.04L999.1 1089.04zM1020.25 1083.53L1034.45 1108.53L1006.05 1108.53zM1027.2 1083.53L1041.4 1108.53L1013 1108.53zM1034.15 1064.04L1048.35 1089.04L1019.95 1089.04zM1041.1 1064.04L1055.3 1089.04L1026.9 1089.04zM1048.05 1064.04L1062.25 1089.04L1033.85 1089.04zM1055 1064.04L1069.2 1089.04L1040.8 1089.04zM1061.95 1064.04L1076.15 1089.04L1047.75 1089.04zM1068.9 1064.04L1083.1 1089.04L1054.7 1089.04zM1075.85 1083.53L1090.05 1108.53L1061.65 1108.53zM1082.8 1083.53L1097 1108.53L1068.6 1108.53zM1089.75 1064.04L1103.95 1089.04L1075.55 1089.04zM1096.7 1064.04L1110.9 1089.04L1082.5 1089.04zM1103.65 1064.04L1117.85 1089.04L1089.45 1089.04zM1110.6 1064.04L1124.8 1089.04L1096.4 1089.04zM1117.55 1064.04L1131.75 1089.04L1103.35 1089.04zM1124.5 1064.04L1138.7 1089.04L1110.3 1089.04zM1131.45 1083.53L1145.65 1108.53L1117.25 1108.53zM1138.4 1083.53L1152.6 1108.53L1124.2 1108.53zM1145.35 1064.04L1159.55 1089.04L1131.15 1089.04zM1152.3 1064.04L1166.5 1089.04L1138.1 1089.04zM1159.25 1064.04L1173.45 1089.04L1145.05 1089.04zM1166.2 1064.04L1180.4 1089.04L1152 1089.04zM1173.15 1064.04L1187.35 1089.04L1158.95 1089.04zM1180.1 1064.04L1194.3 1089.04L1165.9 1089.04zM1187.05 1064.04L1201.25 1089.04L1172.85 1089.04zM1194 1064.04L1208.2 1089.04L1179.8 1089.04zM1200.95 1064.04L1215.15 1089.04L1186.75 1089.04zM1207.9 1064.04L1222.1 1089.04L1193.7 1089.04zM1214.85 1064.04L1229.05 1089.04L1200.65 1089.04zM1221.8 1064.04L1236 1089.04L1207.6 1089.04zM1228.75 1083.53L1242.95 1108.53L1214.55 1108.53zM1235.7 1083.53L1249.9 1108.53L1221.5 1108.53zM1242.65 1064.04L1256.85 1089.04L1228.45 1089.04zM1249.6 1064.04L1263.8 1089.04L1235.4 1089.04zM1256.55 1083.53L1270.75 1108.53L1242.35 1108.53zM1263.5 1083.53L1277.7 1108.53L1249.3 1108.53zM1270.45 1064.04L1284.65 1089.04L1256.25 1089.04zM1277.4 1064.04L1291.6 1089.04L1263.2 1089.04zM1284.35 1064.04L1298.55 1089.04L1270.15 1089.04zM1291.3 1064.04L1305.5 1089.04L1277.1 1089.04zM1298.25 1064.04L1312.45 1089.04L1284.05 1089.04zM1305.2 1064.04L1319.4 1089.04L1291 1089.04zM1312.15 1083.53L1326.35 1108.53L1297.95 1108.53zM1319.1 1083.53L1333.3 1108.53L1304.9 1108.53zM1326.05 1064.04L1340.25 1089.04L1311.85 1089.04zM1333 1064.04L1347.2 1089.04L1318.8 1089.04zM1339.95 1064.04L1354.15 1089.04L1325.75 1089.04zM1346.9 1064.04L1361.1 1089.04L1332.7 1089.04zM1353.85 1083.53L1368.05 1108.53L1339.65 1108.53zM1360.8 1083.53L1375 1108.53L1346.6 1108.53zM1367.75 1064.04L1381.95 1089.04L1353.55 1089.04zM1374.7 1064.04L1388.9 1089.04L1360.5 1089.04zM1381.65 1064.04L1395.85 1089.04L1367.45 1089.04zM1388.6 1064.04L1402.8 1089.04L1374.4 1089.04zM1395.55 1064.04L1409.75 1089.04L1381.35 1089.04zM1402.5 1064.04L1416.7 1089.04L1388.3 1089.04zM1409.45 1064.04L1423.65 1089.04L1395.25 1089.04zM1416.4 1064.04L1430.6 1089.04L1402.2 1089.04zM1423.35 1064.04L1437.55 1089.04L1409.15 1089.04zM1430.3 1064.04L1444.5 1089.04L1416.1 1089.04zM1437.25 1064.04L1451.45 1089.04L1423.05 1089.04zM1444.2 1064.04L1458.4 1089.04L1430 1089.04zM1451.15 1064.04L1465.35 1089.04L1436.95 1089.04zM1458.1 1064.04L1472.3 1089.04L1443.9 1089.04zM1465.05 1064.04L1479.25 1089.04L1450.85 1089.04zM1472 1064.04L1486.2 1089.04L1457.8 1089.04zM1478.95 1064.04L1493.15 1089.04L1464.75 1089.04zM1485.9 1064.04L1500.1 1089.04L1471.7 1089.04zM1492.85 1064.04L1507.05 1089.04L1478.65 1089.04zM1499.8 1064.04L1514 1089.04L1485.6 1089.04zM1506.75 1064.04L1520.95 1089.04L1492.55 1089.04zM1513.7 1064.04L1527.9 1089.04L1499.5 1089.04zM1520.65 1064.04L1534.85 1089.04L1506.45 1089.04zM1527.6 1064.04L1541.8 1089.04L1513.4 1089.04zM1534.55 1064.04L1548.75 1089.04L1520.35 1089.04zM1541.5 1064.04L1555.7 1089.04L1527.3 1089.04z"/>
</g>
<g font-family="'Liberation Sans', Arial, Helvetica, sans-serif" font-size="42" fill="#303030">
<text x="133.8" y="1147.75" text-anchor="end">0</text>
<text x="133.8" y="1038.05" text-anchor="end">0.1</text>
<text x="133.8" y="928.35" text-anchor="end">0.2</text>
<text x="133.8" y="818.65" text-anchor="end">0.3</text>
<text x="133.8" y="708.95" text-anchor="end">0.4</text>
<text x="133.8" y="599.25" text-anchor="end">0.5</text>
<text x="133.8" y="489.55" text-anchor="end">0.6</text>
<text x="133.8" y="379.85" text-anchor="end">0.7</text>
<text x="133.8" y="270.15" text-anchor="end">0.8</text>
<text x="133.8" y="160.45" text-anchor="end">0.9</text>
<text x="133.8" y="50.75" text-anchor="end">1</text>
<text x="151" y="1189.5" text-anchor="middle">0</text>
<text x="290" y="1189.5" text-anchor="middle">20</text>
<text x="429" y="1189.5" text-anchor="middle">40</text>
<text x="568" y="1189.5" text-anchor="middle">60</text>
<text x="707" y="1189.5" text-anchor="middle">80</text>
<text x="846" y="1189.5" text-anchor="middle">100</text>
<text x="985" y="1189.5" text-anchor="middle">120</text>
<text x="1124" y="1189.5" text-anchor="middle">140</text>
<text x="1263" y="1189.5" text-anchor="middle">160</text>
<text x="1402" y="1189.5" text-anchor="middle">180</text>
<text x="1541" y="1189.5" text-anchor="middle">200</text>
</g>
<text font-family="'Liberation Sans', Arial, Helvetica, sans-serif" font-size="47" fill="#262626" x="845.3" y="1253.5" text-anchor="middle">time step</text>
<text font-family="'Liberation Sans', Arial, Helvetica, sans-serif" font-size="48" fill="#262626" text-anchor="middle" transform="translate(49 578) rotate(-90)">mass value m(.)</text>
<rect x="1063.3" y="67.8" width="442.2" height="323.4" fill="#fff" stroke="#1a1a1a" stroke-width="2.8"/>
<g fill="none" stroke-width="2.8">
<path stroke="#000" d="M1074.4 96.7H1202.2M1129.7 87.4h18.6v18.6h-18.6z"/>
<path stroke="#0b0ba8" d="M1074.4 151.4H1202.2M1125 151.4h28M1139 137.4v28"/>
<path stroke="#00b84c" d="M1074.4 202.6H1202.2"/>
<path stroke="#d42424" d="M1074.4 256.4H1202.2M1127 256.4a12 12 0 1 0 24 0a12 12 0 1 0 -24 0"/>
<path stroke="#ffff00" d="M1074.4 306.3H1202.2M1124.2 298.8L1153.8 298.8L1139 322.3z"/>
<path stroke="#d22ad2" d="M1074.4 362.3H1202.2M1139 345.3L1153.8 367.8L1124.2 367.8z"/>
</g>
<g font-family="'Liberation Sans', Arial, Helvetica, sans-serif" font-size="38.5" fill="#000">
<text x="1211.8" y="114">Unknown</text>
<text x="1211.8" y="165.3">Friend</text>
<text x="1211.8" y="219.6">Neutral</text>
<text x="1211.8" y="271.4">Hostile</text>
<text x="1211.8" y="325.4">Assumed Friend</text>
<text x="1211.8" y="376.5">Suspect</text>
</g>
</svg>
</body></html>
